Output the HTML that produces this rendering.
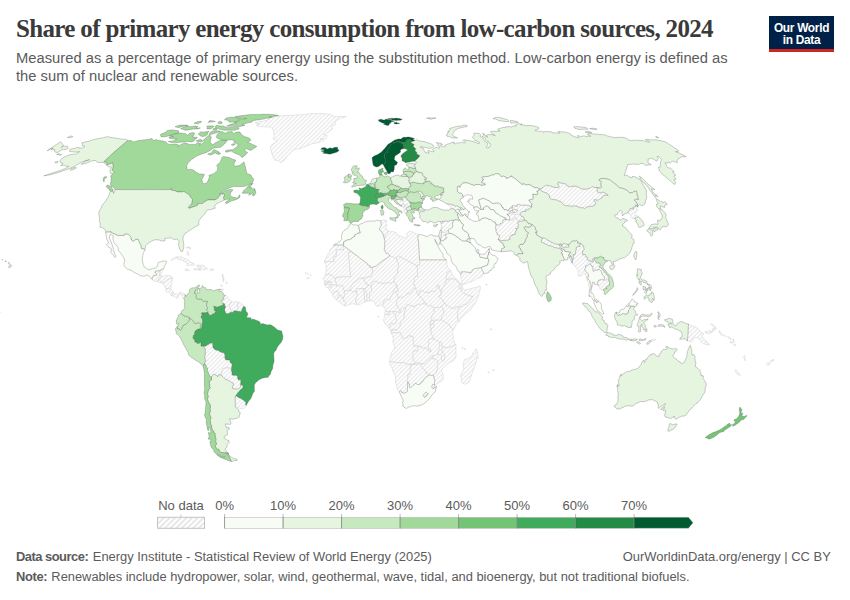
<!DOCTYPE html>
<html lang="en"><head><meta charset="utf-8"><title>Share of primary energy consumption from low-carbon sources, 2024</title>
<style>
html,body{margin:0;padding:0;background:#fff}
body{width:850px;height:600px;position:relative;overflow:hidden;font-family:"Liberation Sans",sans-serif;color:#5b5b5b}
.abs{position:absolute;white-space:nowrap}
#title{left:16px;top:13px;font-family:"Liberation Serif",serif;font-weight:bold;font-size:25px;line-height:32px;color:#3a3a3a;letter-spacing:-0.655px}
#sub{left:16px;top:49px;font-size:14.76px;line-height:18px;color:#5b5b5b;white-space:normal;width:740px}
#logo{left:769px;top:16px;width:65px;height:36px;background:#002147;color:#fff;text-align:center;font-weight:bold;font-size:11.9px;line-height:12.1px;letter-spacing:-0.3px}
#logo:after{content:"";position:absolute;left:0;right:0;bottom:0;height:2.6px;background:#ce261e}
#logo span{display:block}
#foot1{left:16px;top:549px;font-size:12.92px;line-height:16px}
#foot1 b{letter-spacing:-0.5px;margin-right:1px}
#foot2{left:16px;top:569px;font-size:12.89px;line-height:16px}
#foot2 b{letter-spacing:-0.35px;margin-right:0.6px}
#footr{right:19.2px;top:549px;font-size:12.94px;line-height:16px}
b{font-weight:bold}
svg{position:absolute;left:0;top:0}
.lg{font-size:13px;fill:#5b5b5b;font-family:"Liberation Sans",sans-serif}
</style></head><body>
<div id="title" class="abs">Share of primary energy consumption from low-carbon sources, 2024</div>
<div id="sub" class="abs">Measured as a percentage of primary energy using the substitution method. Low-carbon energy is defined as<br>the sum of nuclear and renewable sources.</div>
<div id="logo" class="abs"><span style="margin-top:5.6px">Our World</span><span>in Data</span></div>
<svg width="850" height="600" viewBox="0 0 850 600"><defs><pattern id="hatch" patternUnits="userSpaceOnUse" width="3.03" height="3.03" patternTransform="rotate(-45)"><rect x="-1" y="-1" width="6" height="6" fill="#fff"/><path d="M-1,1.5H5" stroke="#cecece" stroke-width="0.58"/></pattern><pattern id="hatch2" patternUnits="userSpaceOnUse" width="4" height="4" patternTransform="rotate(-45)"><rect x="-1" y="-1" width="6" height="6" fill="#fff"/><path d="M-1,2H5" stroke="#c4c4c4" stroke-width="0.8"/></pattern></defs>
<g id="map"><g fill="url(#hatch)" stroke="#cfcfcf" stroke-width="0.5" stroke-linejoin="round">
<path d="M162.2,268.9 162.1,271.6 160.8,274.7 160,275.7 159.3,275.7 159.7,273.3 160,270.8 160.1,270.4Z"/>
<path d="M160,275.7 161.6,276.3 159.2,278 158.6,279.7 156.7,281.4 154.2,281 152.1,279.4 152.3,277.4 153.6,275.3 156.5,275.3 156.7,274.2 154.6,272.2 155.7,272.2 155.8,270.8 157.9,270.8 160,270.8 159.7,273.3 159.3,275.7Z"/>
<path d="M161.6,276.3 163.2,275.9 166.6,275.7 168.9,275.6 171.2,276.3 172.8,278.1 169.7,279 168.6,279.3 165.9,280.7 164.4,282.5 162.8,282.5 161.9,282.5 160.4,281.1 159.7,280.4 158.6,279.7 159.2,278Z"/>
<path d="M172.8,278.1 171.8,282 171.3,285.1 170.8,288.5 169.6,289.1 168.3,288.5 166,288.5 164.3,285.9 162.5,283.6 162.8,282.5 164.4,282.5 165.9,280.7 168.6,279.3 169.7,279Z"/>
<path d="M170.8,288.5 171.4,290.1 173.1,292.2 172.3,293.5 172.6,294 172,295.9 170.6,295.1 170.5,293.8 168.3,291.9 167.3,292.2 166,291.2 166,288.5 168.3,288.5 169.6,289.1Z"/>
<path d="M173.1,292.2 173.9,293.8 176,294.3 179,293.3 180.2,292.2 182.5,292.7 184.9,294.6 185.2,296.6 183.6,298.3 182.5,296.4 181.3,294 179.6,294.8 178,295.9 178.8,297.7 176.7,298.5 175.1,296.9 172.4,295.9 172,295.9 172.6,294 172.3,293.5Z"/>
<path d="M225.4,295.5 227.2,296.4 228.3,298.2 229.4,299.5 231.2,301.6 230.9,304 229.5,304.7 229.6,305.3 229.1,306.7 230.1,308.6 230.8,308.6 231.1,310.1 232.5,312.3 231.9,312.4 230.6,312.2 229.9,312.9 228.8,313.4 228.1,313.5 227.8,314 226.7,313.8 225.3,312.6 225.1,311.4 224.6,310.1 225,307.9 225.6,306.9 225.1,305.7 224.4,305.4 224.7,304.2 224.2,303.6 223,303.7 221.5,301.7 222.1,301 222.1,299.8 223.5,299.4 224.1,298.9 223.4,297.9 223.6,297Z"/>
<path d="M231.2,301.6 233.9,302.1 236.2,301.7 238.5,302 237.4,304.5 237.5,306.3 238.4,307.8 238,309 237.7,310.2 237.1,311.3 235.8,310.7 234.7,311 233.8,310.7 233.6,311.5 234,312 233.7,312.5 232.5,312.3 231.1,310.1 230.8,308.6 230.1,308.6 229.1,306.7 229.6,305.3 229.5,304.7 230.9,304Z"/>
<path d="M238.5,302 240.8,303.2 243.1,305.3 243.7,306.3 242.4,308.8 241.7,310.8 240.8,311.8 239.7,311.9 239.4,311.2 238.9,311.1 238.1,311.8 237.1,311.3 237.7,310.2 238,309 238.4,307.8 237.5,306.3 237.4,304.5Z"/>
<path d="M246.2,405.5 245.6,407.2 243.5,408.7 240.6,408.5 238.8,407.9 236.9,407.4 235.3,405.9 235.1,404.2 235.5,403.7 235,401.1 235.1,398.4 235.3,396.3 236.7,396 239.3,398 240.1,397.9 242.6,399.6 244.6,401.1 246.1,402.9 245.4,404.1Z"/>
<path d="M161.9,282.5 160.2,282.8 157.3,282 156.7,281.4 158.6,279.7 159.7,280.4 160.4,281.1Z"/>
<path d="M204.5,363.3 205.7,360.4 204.5,358.2 205,357.3 204.5,356.4 205.3,355.1 205.2,352.9 205.1,351 205.6,350.1 204.4,348 203.3,345.9 205,346.2 206.2,346.1 206.7,345.3 208.7,344.3 209.8,343.3 212.8,342.8 212.7,344.8 213,345.8 212.9,347.5 215.5,349.9 218.1,350.3 219.1,351.3 220.7,351.8 221.7,352.6 223.1,352.5 224.5,353.3 224.7,354.8 225.2,355.6 225.3,356.7 224.6,356.7 225.7,359.8 227.9,359.9 230.1,359.9 229.9,361.4 230.2,362.4 231.5,363.2 232.2,364.8 231.9,366.9 231.4,368 231.8,369.5 231.1,370.1 231,369.2 228.8,367.9 226.7,367.9 224.7,368.2 222.8,368.6 221.9,370.9 222,372.3 221.4,375.5 221,374.9 218.4,374.8 217.7,376.9 216.2,375 213.2,374.4 211.6,376.7 210,377.1 208.7,373.5 207.2,370.5 207.6,368 206.3,366.9 205.8,365Z"/>
<path d="M221.4,375.5 222,372.3 221.9,370.9 222.8,368.6 224.7,368.2 226.7,367.9 228.8,367.9 231,369.2 231.1,370.1 231.9,371.5 232.1,375 234.5,375.5 235.4,375 237,375.7 237.5,376.5 237.9,378.9 238.3,379.9 239.1,380 239.9,379.6 240.8,380.1 240.9,381.5 240.8,383.1 240.5,384.6 240.4,386.9 238.6,388.9 236.9,389.3 234.3,388.9 232,388.2 232.8,386.2 233.7,384.2 233.2,383.1 230.8,382 227.9,380.1 226,379.7 223.7,377.6Z"/>
<path d="M199.8,270.1 197.6,269.9 195.9,269.7 194.8,270.2 193.6,269.4 193.9,268.5 196,268.9 197.7,269.1 198.6,268.5 197.6,267.4 197.8,266.4 196.4,266 197,265.2 198.9,265.2 200.3,265.8 200.3,267.2 200,268.2 199.4,268.6 199.9,269.4Z"/>
<path d="M200.3,265.8 200.6,265.3 202.4,265.3 204.3,265.9 204.6,266.9 205.7,267.6 206.9,267.8 207.7,268.7 206.7,269.7 205.5,269.1 203.7,269.7 202.3,269.1 201.5,269.5 199.9,270.9 199.8,270.1 199.9,269.4 199.4,268.6 200,268.2 200.3,267.2Z"/>
<path d="M638.1,207 637.2,206.9 636.8,207.8 636.6,208.6 637.8,210.5 637,211.1 636.9,211.5 636.5,212.3 635.3,212.7 634.7,213.4 635.2,214.6 635.1,214.8 636.2,215.3 638,216.4 637.2,217.2 635.7,217.3 635.4,218.5 634.4,218.6 633.1,218.1 632.6,218.8 632.3,218.4 631.6,218.1 630.8,217.7 630.9,216.6 631.2,216.2 630.8,215.8 630.6,214.4 630.3,214 628.9,213.7 627.5,213 628.4,211.3 630,209.9 630.4,208.1 631.9,208.9 633.8,209 632.7,207.6 634,207.1 635.3,206.5 635.2,205 637.5,206.6Z"/>
<path d="M602.7,289.9 600.8,289.5 599.7,288.2 598.3,285.4 597.4,282.3 598.7,280.1 601.6,279.6 603.8,280 605.7,281 606.6,279.2 608.7,280.2 609.4,281.9 609.5,285 607.7,286 605.8,287.1 607,288.7 604.6,288.8Z"/>
<path d="M589.5,291.3 589.2,289.4 589.7,287.4 588.8,285.9 588.7,283 587.6,281.6 586.6,278.5 585.8,275.2 584.5,273 583.2,274.4 580.8,276.2 579.5,276 578,275.4 578.4,272.1 577.6,269.7 575.4,266.7 575.5,265.7 574.2,265.4 572.2,263.3 571.8,261.2 572.6,261.6 572.4,259.7 573.4,259.1 573,258 573.4,257.1 573.1,254.4 574.9,255 575.6,252.8 575.5,251.5 576.3,249.3 575.9,247.8 578.4,246 580.1,246.5 579.6,244.9 580.3,244.4 579.9,243.4 581.1,243.2 582.2,244.8 583.3,245.4 583.8,247.4 584.2,249.5 582.5,251.7 582.8,254.8 585.1,254.4 586,256.8 587.5,257.3 587.2,259.5 589,260.5 589.9,260.9 591.9,261.3 590.2,263 589.9,263.9 588.7,264.5 587.5,265.7 585.9,265.8 585.3,268.6 584.5,269.1 585.9,271.4 587.6,273.3 588.7,275 588.2,277.3 587.4,277.8 588.1,279.1 589.9,281.1 590.3,282.6 590.4,283.8 591.5,286.2 590.4,288.7Z"/>
<path d="M484.1,273.8 482.5,274.5 482.2,275.6 482.2,276.5 479.9,277.6 478.2,278.2 476.4,278.8 474.4,280.7 473.4,280.8 472.7,280.7 471.4,281.8 470,282.3 468.1,282.4 467.5,282.6 467.1,283.2 466.4,283.4 466.1,284.1 465,284 464.3,284.4 462.7,284.3 462,282.7 462,281.3 461.6,280.5 461.1,278.6 460.4,277.5 460.8,277.4 460.5,276.2 460.8,275.7 460.6,274.6 461.6,273.7 461.3,272.6 461.8,271.3 462.8,272 463.4,271.8 466,271.7 466.4,272 468.7,272.3 469.5,272.1 470.1,273 471.2,272.5 472.6,269.8 474.7,268.6 477.9,268.1 481.1,267.6 482.2,269.8 483.2,271.9Z"/>
<path d="M440.6,240.6 440.5,240.2 440.9,238.1 441.2,236 441.1,235 441.3,234.2 441.2,232.6 441.5,231.8 444,232.8 446,231.4 448,230 449.3,233.2 448.9,233.6 446.7,234.3 444.6,234.9 447.1,237.5 446.4,238 446.1,238.9 444.5,239.2 444,240.2 443.2,241Z"/>
<path d="M446.3,259.8 447.2,262.4 446.7,262.8 447.2,265.5 448.2,268.7 449.1,269.3 450.4,270.3 449.3,271.7 447.7,272.2 447,273 446.9,274.7 446,278.6 446.3,279.6 446.1,281.9 445.2,284.4 443.9,285.7 443,287.7 442.8,288.8 441.7,289.5 441.2,292.5 440.8,292.5 440.8,291.2 440.5,290.3 439.3,289.3 439,287.4 439.2,285.5 438.1,285.3 437.9,285.9 436.6,286 437.1,286.8 437.4,288.3 436.2,289.8 435.1,291.7 433.9,291.9 431.9,290.4 431.1,291 430.9,291.7 429.7,292.2 429.6,292.7 427.3,292.7 427,292.2 425.3,292.1 424.5,292.5 423.9,292.3 422.7,290.8 422.3,290.1 420.6,290.5 420,291.7 419.5,294 418.7,294.5 418,294.8 417.8,294.6 417,293.9 416.8,293.1 417.2,292 417.1,290.9 415.8,289.3 415.5,288.2 415.5,287.6 414.7,286.8 414.6,285.3 414.1,284.2 413.3,284.4 413.5,283.4 414.1,282.4 413.8,281.3 414.5,280.5 414,279.8 414.6,278.2 415.6,276.3 417.6,276.5 417.4,273 417.3,269.6 417.1,266.1 417.1,265 419.7,265 419.6,262.4 419.5,259.8 422.5,259.8 425.6,259.8 428.6,259.8 431.5,259.8 434.4,259.8 437.3,259.8 440.3,259.8 443.3,259.8Z"/>
<path d="M450.4,270.3 451.9,273.3 452.7,275.7 454,276.9 457.2,279.4 458.5,280.9 459.9,282.4 460.6,283.3 461.8,284.1 461.1,284.7 460.1,284.5 459.3,283.7 458.3,282.1 457.2,281.3 456.6,280.4 454.6,279.3 453,279.3 452.4,278.8 451.1,279.4 449.7,278.2 449,280.2 446.3,279.6 446,278.6 446.9,274.7 447,273 447.7,272.2 449.3,271.7Z"/>
<path d="M461.8,284.1 462.3,284.9 462.3,286 461,286.6 462,287.3 461.3,288.7 460.7,288.3 460.2,288.5 458.9,288.4 458.8,287.6 458.6,286.9 459.3,285.7 460.1,284.5 461.1,284.7Z"/>
<path d="M462,287.3 462.8,287.8 463.3,288.9 464.4,290 465.5,290 467.7,289.3 470.1,289 472.1,288.2 473.3,288 474.1,287.6 475.4,287.5 476.1,287.4 477.1,287 478.3,286.8 479.4,285.9 480.2,285.9 480.3,286.6 480.2,288.1 480.3,289.5 479.8,290.4 479.3,293.3 478.3,296.2 476.9,299.5 475,303.3 473.1,306.3 470.5,309.8 468.2,311.9 464.8,314.6 462.6,316.5 460.1,319.7 459.5,321.1 459,321.7 457.6,319.5 457.6,316.4 457.6,313.2 457.6,310 459.6,307.1 460.2,306.2 461.7,306.2 463.7,304.3 466.7,304.2 469.9,300.3 473,296.4 471.1,296.4 468.5,295.4 466,294.3 463.5,293.3 462.6,292.4 461.7,291.1 460.8,289.7 461.3,288.7Z"/>
<path d="M459,321.7 457.4,322.7 456.8,323.8 455.9,324 455.6,325.9 454.8,326.9 454.3,328.7 453.4,329.5 450.1,326.9 450,325.4 447.2,323.6 444.5,321.8 441.7,320.1 441.3,319.8 441.3,317 441.9,315.9 443,314.2 443.9,312.3 442.9,309.3 442.6,308 441.4,306.2 442.8,304.6 444.4,302.9 445.6,303.3 445.6,304.8 446.4,305.7 448,305.7 451,307.9 451.7,307.9 452.2,307.8 452.7,308.2 454.3,308.4 454.9,307.3 457,306.2 458,307.1 459.6,307.1 457.6,310 457.6,313.2 457.6,316.4 457.6,319.5Z"/>
<path d="M453.4,329.5 452.3,332.7 452.4,334.2 453.9,335.2 453.9,335.9 453.2,337.4 453.3,338.2 453.2,339.5 453.9,341.1 454.8,343.7 455.6,344.3 453.8,345.8 451.2,346.8 449.8,346.8 449,347.5 447.4,347.6 446.8,347.9 444,347.2 442.3,347.4 441.8,343.9 441,342.6 440.6,341.9 439.4,342.6 438.3,341.4 437,340.6 435.6,340.2 434.7,339.8 433.7,339.1 432.6,335.8 431.2,334.3 430.8,332.8 431.1,331.5 430.7,329.1 431.6,328.9 432.5,328 433.4,326.6 434,326.1 433.9,325.2 433.5,324.6 433.3,323.6 434,323.3 434.2,321.7 433.2,320.3 434,319.9 436.6,320 438.9,319.9 441.3,319.8 441.7,320.1 444.5,321.8 447.2,323.6 450,325.4 450.1,326.9Z"/>
<path d="M455.6,344.3 456,345.5 455.8,348 456,350.3 455.9,352.4 455.9,354.4 456.3,355.7 455.5,357.6 454.5,359.4 453,361 450.8,362 448.2,363.3 445.5,366.1 444.6,366.5 442.9,368.4 441.9,369 441.6,370.9 442.6,372.8 443,374.4 443,375.2 443.3,375 443.1,377.6 442.7,378.8 443.2,379.3 442.8,380.4 441.8,381.3 439.9,382.2 437.1,383.6 436.1,384.6 436.2,385.7 436.7,385.8 436.4,387.2 434.8,387.2 434.7,386 434.4,384.8 434.3,383.9 434.8,381 434.3,379.1 433.5,375.5 436,372.5 436.7,370.6 437,370.4 437.4,368.8 437,368.1 437.2,366.1 437.8,364.3 437.9,361 436.8,360.1 435.7,360 435.2,359.3 434.2,358.8 432.3,358.8 432.1,357.8 432,356 434.3,355.3 436.7,354.5 439,353.8 440.3,355.1 440.9,354.8 441.8,355.5 441.9,356.5 441.4,357.8 441.5,359.6 442.9,361.2 443.7,359.4 444.7,358.9 444.6,355.5 443.7,353.6 442.9,352.8 442.1,352.8 441.6,349.4 442.3,347.4 444,347.2 446.8,347.9 447.4,347.6 449,347.5 449.8,346.8 451.2,346.8 453.8,345.8Z"/>
<path d="M399.4,392 397.8,390 397,388.1 396.6,385.6 396.1,383.7 395.8,381.7 395.4,379.6 395.5,376.5 395.2,375.1 394.4,374 393.2,371.9 392.1,368.7 391.6,367.1 389.8,364.5 389.7,362.5 390.9,362 392.2,361.6 393.7,361.7 395,362.8 395.4,362.7 398.4,362.6 401.5,362.6 404.6,362.5 406.2,363.8 408.9,364 411.7,364.2 413.8,363.6 415.9,363.1 417.7,362.5 419.2,362.7 420.1,363.3 420.1,363.5 418.8,364.1 418.1,364.1 416.6,365.1 415.8,364 414,364.5 412.3,364.9 410.6,365 410.4,368.1 410.3,371.2 410.2,374.3 408,374.4 407.9,378.2 407.7,382 407.6,385.3 407.5,388.5 407.3,391.7 405.2,393 404,393.2 402.7,392.7 401.7,392.5 401.4,391.4 400.5,390.7Z"/>
<path d="M389.7,362.5 389.5,360.9 389.9,358.6 390.7,356.2 390.9,355.1 391.6,352.7 392.2,351.6 393.5,349.9 394.3,348.8 394.5,346.8 394.4,345.3 393.8,344.4 393.2,342.8 392.6,341.3 392.7,340.7 393.5,339.7 392.8,337.2 392.3,335.4 391.2,333.7 391.4,333.2 392.4,332.9 393,332.9 393.8,332.6 397.2,332.6 400.6,332.7 401.2,334.6 401.8,336.2 402.4,337 403.2,338.4 404.7,338.2 405.5,337.8 406.8,338.2 407.1,337.5 407.7,336 409.2,335.9 409.3,335.4 410.5,335.4 410.2,336.4 413,336.4 413.1,338 413.5,339 413.1,340.6 413.3,342.2 414.1,343.2 413.9,346.3 414.4,346 415.4,346.1 416.9,345.7 417.9,345.9 418.1,346.7 417.8,347.9 418.2,349.2 417.9,350.2 418,351 415.7,351 413.3,351 413.2,353.8 413.1,356.6 413,359.3 414.4,361.5 415.9,363.1 413.8,363.6 411.7,364.2 408.9,364 406.2,363.8 404.6,362.5 401.5,362.6 398.4,362.6 395.4,362.7 395,362.8 393.7,361.7 392.2,361.6 390.9,362Z"/>
<path d="M391.4,333.2 391.1,332.4 391.7,332.1 391.8,331 392.1,330.3 393,329.8 393.6,330.1 394.4,329.1 395.6,329.1 395.8,329.8 396.6,330.3 398,328.6 399.3,327.4 399.9,326.6 399.9,324.4 400.9,321.8 402,320.5 403.5,319.2 403.7,318.4 403.8,317.5 404.2,316.5 404,315.1 404.3,312.8 404.8,311.1 405.4,309.7 405.6,308.2 405.8,306.3 406.7,305 407.9,304.2 409.8,305 411.3,306 413,306.3 414.7,306.8 415.4,305.2 415.7,305 416.7,305.2 419.3,303.9 420.2,304.5 420.9,304.4 421.3,303.8 422.1,303.6 423.9,303.8 425.3,303.9 426.1,303.6 427.5,305.8 428.6,306.1 429.2,305.6 430.3,305.8 431.5,305.3 432.1,306.4 434.1,308.1 434,311.2 435,311.5 434.2,312.5 433.3,313.2 432.5,314.5 432,315.7 431.9,317.8 431.3,318.8 431.3,320.8 430.6,321.5 430.5,323.1 430.2,323.3 430,324.7 430.6,325.9 430.7,329.1 431.1,331.5 430.8,332.8 431.2,334.3 432.6,335.8 433.7,339.1 432.9,338.8 429.7,339.3 429.1,339.6 428.4,341.2 428.9,342.4 428.5,345.5 428.1,348.1 428.7,348.6 430.3,349.6 430.9,349.1 431,352 429.3,351.9 428.4,350.5 427.6,349.4 425.8,349 425.3,347.6 423.9,348.5 422.1,348.1 421.4,346.9 419.9,346.7 418.8,346.7 418.7,345.9 417.9,345.9 416.9,345.7 415.4,346.1 414.4,346 413.9,346.3 414.1,343.2 413.3,342.2 413.1,340.6 413.5,339 413.1,338 413,336.4 410.2,336.4 410.5,335.4 409.3,335.4 409.2,335.9 407.7,336 407.1,337.5 406.8,338.2 405.5,337.8 404.7,338.2 403.2,338.4 402.4,337 401.8,336.2 401.2,334.6 400.6,332.7 397.2,332.6 393.8,332.6 393,332.9 392.4,332.9Z"/>
<path d="M391.1,332.4 390.5,330.5 391.4,329.4 392.1,328.9 393,329.8 392.1,330.3 391.8,331 391.7,332.1Z"/>
<path d="M390.5,330.5 388.6,327.7 390.4,326.3 389.5,324.5 390.3,323.9 391.9,323.5 392,322.4 393.3,323.7 395.3,323.8 396,322.5 396.3,320.8 396.1,318.7 395,317.2 396,314.2 395.4,313.6 393.7,313.9 393,312.5 393.2,311.4 396.1,311.5 398,312.2 399.8,312.8 400,311.4 401.2,308.9 402.5,307.5 404.1,308 405.6,308.2 405.4,309.7 404.8,311.1 404.3,312.8 404,315.1 404.2,316.5 403.8,317.5 403.7,318.4 403.5,319.2 402,320.5 400.9,321.8 399.9,324.4 399.9,326.6 399.3,327.4 398,328.6 396.6,330.3 395.8,329.8 395.6,329.1 394.4,329.1 393.6,330.1 393,329.8 392.1,328.9 391.4,329.4Z"/>
<path d="M388.6,327.7 386.2,325.1 384.7,322.9 383.3,320.2 383.4,319.3 383.9,318.5 384.5,316.6 384.9,314.7 385.7,314.5 389.1,314.5 389,311.4 390.1,311.2 391.5,311.6 392.9,311.2 393.2,311.4 393,312.5 393.7,313.9 395.4,313.6 396,314.2 395,317.2 396.1,318.7 396.3,320.8 396,322.5 395.3,323.8 393.3,323.7 392,322.4 391.9,323.5 390.3,323.9 389.5,324.5 390.4,326.3Z"/>
<path d="M384.9,314.7 384.5,314.3 385.3,311.3 387.2,311.4 389,311.4 389.1,314.5 385.7,314.5Z"/>
<path d="M385.3,311.3 385.6,309.3 384.7,307.5 383.6,307.1 383.2,305.9 382.6,305.5 382.6,304.8 383.2,303 384.3,300.5 384.9,300.4 386.3,298.9 387.2,298.8 388.5,299.9 390.1,299.1 390.3,298 390.8,296.9 391.1,295.6 392.3,294.5 392.8,292.7 393.3,292.1 393.6,290.7 394.2,289.1 396.1,287.1 396.2,286.2 396.4,285.7 395.5,284.7 395.5,283.8 397.2,285.4 397.3,287.1 397.3,288.8 398.6,291.2 397.3,291.2 396.6,291.4 395.6,291.1 395.1,292.3 396.4,293.9 397.5,294.3 397.8,295.4 398.5,297.2 398.2,297.9 397.1,300.5 396.5,301 396.3,303.1 396.6,304.2 396.4,304.9 397.5,306.3 397.7,307.2 398.6,308.6 399.6,309.4 399.7,310.6 400,311.4 399.8,312.8 398,312.2 396.1,311.5 393.2,311.4 392.9,311.2 391.5,311.6 390.1,311.2 389,311.4 387.2,311.4Z"/>
<path d="M382.6,304.8 380.2,305.8 379.3,305.6 378.5,306.2 376.6,306.2 375.4,304.5 374.6,302.6 373,300.9 371.2,300.9 369.2,300.9 369.3,298.8 369.3,296.7 369.3,295.1 369.7,293.4 370.4,292.6 371.5,291 371.3,290.3 371.7,289.3 371.2,287.7 371.3,286.8 371.4,284.5 372.1,283.4 372.4,281.9 373,281.4 375.5,281 377.8,282 378.6,283 379.8,283.1 380.9,282.4 383.7,283.8 384.8,283.7 386.2,282.6 387.5,282.7 388.2,282.3 389.4,282.5 391.2,283.2 393,281.7 394.1,281.5 395.5,283.8 395.5,284.7 396.4,285.7 396.2,286.2 396.1,287.1 394.2,289.1 393.6,290.7 393.3,292.1 392.8,292.7 392.3,294.5 391.1,295.6 390.8,296.9 390.3,298 390.1,299.1 388.5,299.9 387.2,298.8 386.3,298.9 384.9,300.4 384.3,300.5 383.2,303Z"/>
<path d="M369.2,300.9 367.3,301.2 366.7,299.4 366.8,296.4 366.8,293.4 366.4,292.9 366.3,291.6 365.5,290.7 364.8,289.9 365.1,288.5 365.8,288.3 366.3,287.1 367.5,286.9 367.9,286.1 368.7,285.3 369.5,285.3 371.3,286.8 371.2,287.7 371.7,289.3 371.3,290.3 371.5,291 370.4,292.6 369.7,293.4 369.3,295.1 369.3,296.7 369.3,298.8Z"/>
<path d="M367.3,301.2 365.4,301.8 364.9,300.9 364.3,299.2 364.1,297.9 364.6,295.6 364.1,294.6 363.9,292.5 363.9,290.7 362.9,289.3 363,288.5 365.1,288.5 364.8,289.9 365.5,290.7 366.3,291.6 366.4,292.9 366.8,293.4 366.8,296.4 366.7,299.4Z"/>
<path d="M365.4,301.8 363.6,302.6 361.8,303.3 360.6,304.2 358.5,305 356.4,304.3 356.5,303.2 355.5,301 356.1,298 357.1,295.8 356.5,292.1 356.2,290.1 356.2,288.7 358.2,288.6 360.2,288.5 361.3,288.7 362,288.3 363,288.5 362.9,289.3 363.9,290.7 363.9,292.5 364.1,294.6 364.6,295.6 364.1,297.9 364.3,299.2 364.9,300.9Z"/>
<path d="M356.4,304.3 355.4,304.3 353.8,303.8 352.3,303.8 349.6,304.3 347.9,305 345.7,306 345.2,305.9 345.4,303.7 345.6,303.4 345.6,302.4 344.6,301.3 343.8,301.1 343.2,300.4 343.7,299.2 343.4,298 343.6,297.2 343.9,297.2 344.1,296.1 343.9,295.6 344.1,295.2 345,294.9 344.4,292.8 343.9,291.7 344.1,290.8 344.5,290.6 344.8,290.4 345.5,290.8 347.3,290.8 347.7,290 348.1,290.1 348.7,289.8 349.1,290.9 349.6,290.6 350.4,288.7 351.1,290.4 352,291.6 353,292.2 353.9,291.5 354.9,291.4 356.5,292.1 357.1,295.8 356.1,298 355.5,301 356.5,303.2Z"/>
<path d="M345.2,305.9 344.6,305.9 342.2,304.7 340.2,302.7 338.2,301.2 336.6,299.6 337.2,298.7 337.3,298 338.4,296.5 339.5,295.3 339.9,295.3 340.5,295 341.5,296.6 341.4,297.6 341.8,298.2 342.4,298.2 342.9,297.1 343.6,297.2 343.4,298 343.7,299.2 343.2,300.4 343.8,301.1 344.6,301.3 345.6,302.4 345.6,303.4 345.4,303.7Z"/>
<path d="M336.6,299.6 336,299.4 334.4,298.3 333.2,296.9 332.8,296 332.5,294 333.8,292.9 334,292.2 334.4,291.6 335.1,291.5 335.6,291 337.4,291 338.1,292 338.6,293.1 338.5,293.8 338.9,294.5 338.8,295.5 339.5,295.3 338.4,296.5 337.3,298 337.2,298.7Z"/>
<path d="M332.5,294 331.5,292.5 330.7,291.4 330.1,291.1 329.5,290.6 329.3,289.4 328.9,288.9 328.3,288.4 329.3,287.2 330,287.2 330.6,286.8 331.1,286.8 331.5,286.4 331.3,285.6 331.5,285.3 331.6,284.4 332.7,284.4 334.3,285.1 334.8,285 335,284.7 336.3,284.9 336.6,284.8 336.7,285.7 337.1,285.7 337.7,285.4 338.1,285.5 338.7,286.1 339.7,286.3 340.3,285.8 341.6,285.1 342.1,285.1 342.6,285.7 342.8,286.4 343.8,287.5 343.3,288.2 343.2,289 343.7,288.8 344,289.1 343.8,289.9 344.5,290.6 344.1,290.8 343.9,291.7 344.4,292.8 345,294.9 344.1,295.2 343.9,295.6 344.1,296.1 343.9,297.2 343.6,297.2 342.9,297.1 342.4,298.2 341.8,298.2 341.4,297.6 341.5,296.6 340.5,295 339.9,295.3 339.5,295.3 338.8,295.5 338.9,294.5 338.5,293.8 338.6,293.1 338.1,292 337.4,291 335.6,291 335.1,291.5 334.4,291.6 334,292.2 333.8,292.9Z"/>
<path d="M328.3,288.4 327.1,287.3 326.1,287.2 325.6,286.4 325.6,286 324.9,285.5 324.8,284.9 326,284.5 326.7,284.6 327.4,284.3 329.5,284.3 331.6,284.4 331.5,285.3 331.3,285.6 331.5,286.4 331.1,286.8 330.6,286.8 330,287.2 329.3,287.2Z"/>
<path d="M324.8,284.9 324.4,282.9 326.5,283 327.1,282.6 327.5,282.6 328.3,282 329.3,282.5 330.3,282.6 331.3,282 330.8,281.3 330.1,281.7 329.4,281.7 328.5,281 327.7,281.1 327.2,281.7 324.7,281.8 323.8,279.7 322.7,278.8 323.7,278.3 324.9,276.5 325.4,275.1 326.2,274.3 327.4,274.5 328.5,273.9 329.7,273.9 330.8,274.7 332.3,275.4 333.7,277.3 335.2,279.1 335.3,280.7 335.7,282.2 336.5,283 336.7,284 336.6,284.8 336.3,284.9 335,284.7 334.8,285 334.3,285.1 332.7,284.4 331.6,284.4 329.5,284.3 327.4,284.3 326.7,284.6 326,284.5Z"/>
<path d="M324.4,282.9 324.7,281.8 327.2,281.7 327.7,281.1 328.5,281 329.4,281.7 330.1,281.7 330.8,281.3 331.3,282 330.3,282.6 329.3,282.5 328.3,282 327.5,282.6 327.1,282.6 326.5,283Z"/>
<path d="M325.4,275.1 325.3,273.7 325.9,272.4 326.3,270 326.1,267.4 325.8,266.1 326.1,264.8 325.5,263.5 324.4,262.4 324.9,261.5 327.8,261.5 330.8,261.5 333.7,261.5 333.4,257.8 334,256.4 336.1,256.2 336.1,252.9 336.2,249.5 338.6,249.6 341.1,249.6 343.5,249.6 343.6,247.7 343.6,245.7 346.4,247.8 349.2,249.9 351.9,252 350.2,252 348.5,252.1 348.8,255.8 349.1,259.6 349.5,263.3 349.8,267.1 350.1,270.9 350.5,274.6 350.9,275 350.3,276.8 347.3,276.8 344.2,276.8 341.2,276.8 340.8,277.4 339.9,277.2 338.7,277.7 337.1,277 336.3,277.1 335.9,278.6 335.2,279.1 333.7,277.3 332.3,275.4 330.8,274.7 329.7,273.9 328.5,273.9 327.4,274.5 326.2,274.3Z"/>
<path d="M324.4,262.4 324.5,261.3 324.6,260.1 325.5,259.4 326.3,258 326.2,257.1 327,255.3 328.3,253.6 329.1,253.2 329.7,251.7 329.8,250.3 330.7,248.7 332.2,247.7 333.7,245 337,245 340.3,245 343.6,245 343.6,245.7 343.6,247.7 343.5,249.6 341.1,249.6 338.6,249.6 336.2,249.5 336.1,252.9 336.1,256.2 334,256.4 333.4,257.8 333.7,261.5 330.8,261.5 327.8,261.5 324.9,261.5Z"/>
<path d="M381.2,220.7 383.5,219.7 385,220 385,221.3 386.8,220.4 387,220.9 385.9,222.1 386,223.3 386.7,224 386.5,226.3 385.2,227.6 385.6,229 386.8,229 387.3,230.3 388.2,230.7 388.1,232.7 387.1,233.4 386.4,234.3 385,235.3 385.2,236.4 385.1,237.5 384,238.1 383.5,235.7 382.9,233.4 381.6,232.3 381.5,231.7 379.7,230.1 379.4,228.2 380.7,226.7 381.2,224.6 380.8,222.1Z"/>
<path d="M388.2,230.7 390.8,231.6 391.7,231.4 393.6,231.8 396.5,232.9 397.7,235.3 399.7,235.8 402.8,236.9 405.3,238.2 406.3,237.5 407.3,236.3 406.7,234.3 407.3,233 408.8,231.8 410.3,231.5 413.3,232 414.1,233.2 415,233.2 415.7,233.6 417.9,233.9 418.5,234.8 417.8,236 418.2,237.2 417.7,238.8 418.5,240.9 418.7,244 418.9,247.1 419.1,250.2 419.2,253.4 419.4,256.6 419.5,259.8 419.6,262.4 419.7,265 417.1,265 417.1,266.1 414,264.4 411,262.8 407.9,261.1 404.8,259.4 401.8,257.8 398.7,256.1 396.5,257.5 394.9,258.5 393.6,257.1 391.8,256.5 390,255.9 387.2,253.1 386.2,253.6 385.4,252.1 385.2,251 383.9,249.1 384.8,248 384.5,246.4 384.8,244.9 384.6,243.7 384.9,241.6 384.8,240.4 384,238.1 385.1,237.5 385.2,236.4 385,235.3 386.4,234.3 387.1,233.4 388.1,232.7Z"/>
<path d="M440,230.8 440.6,228.7 441.4,226.8 441.5,226.7 442.5,226.9 442.9,227.9 441.9,228.9 441.5,230.3 440.9,230.4 440.8,230.8Z"/>
<path d="M441.5,226.7 441,224.7 441.4,223.7 441.9,223.1 442.4,222.5 442.4,221.1 443.1,221.6 445.4,220.9 446.6,221.3 448.4,221.3 450.7,220.4 451.9,220.4 454.3,220 453.5,221.6 452.4,222.3 452.8,224.2 452.5,227.3 450.2,228.7 448,230 446,231.4 444,232.8 441.5,231.8 441.7,231.4 441.5,230.3 441.9,228.9 442.9,227.9 442.5,226.9Z"/>
<path d="M450.7,208.8 450.8,207.7 450,205.9 448.6,205 447.4,204.7 446.5,203.9 446.7,203.6 448.5,204 451.7,204.4 454.8,205.7 455.2,206.2 456.4,205.8 458.5,206.3 459.4,207.4 460.8,208 460.3,208.3 461.6,209.7 461.4,210 460.2,209.9 458.5,209.1 458.1,209.5 455.2,210 453,208.7Z"/>
<path d="M406,213.8 405.6,213.6 405.5,213 404.3,212.1 404,210.9 404,209.1 404.2,208.3 403.8,207.9 403.6,207.1 404.4,205.8 404.6,206.3 405.1,206.1 405.6,206.8 406.2,207 406.4,208 406.2,208.8 406.6,210 407.5,210.6 407.6,211.3 406.9,211.7 406.9,212.5Z"/>
<path d="M403.8,207.9 403.4,207.7 402.7,206.9 401.7,206.4 401.9,205.9 402.1,204.5 402.8,203.9 403.1,203.7 403.7,204.1 404.1,204.5 404.8,204.7 405.6,205.3 405.5,205.5 405.1,206.1 404.6,206.3 404.4,205.8 403.6,207.1Z"/>
<path d="M401.8,197.5 403.3,196.9 404.6,197 405.8,198 406.1,198.8 407.4,199.4 407.7,200.5 409,201.2 409.7,201.4 410.1,201.8 409.7,202.4 409.9,203.4 411.1,204.5 410.4,205.3 410.1,206.1 410.4,206.4 410,206.8 409.1,206.8 408.4,207 408.3,206.8 408.5,206.5 408.7,205.8 408.4,205.8 407.9,205.4 407.6,205.2 407.3,204.8 406.9,204.7 406.5,204.3 406.2,204.4 406,205.3 405.5,205.5 405.6,205.3 404.8,204.7 404.1,204.5 403.7,204.1 403.1,203.7 403.6,203.5 403.8,202.3 402.7,201.4 403.1,200.2 402.4,200.2 403.1,199.2 402.3,198.5Z"/>
<path d="M401.9,205.9 400,204.9 399.1,203.9 398.3,203.3 397.3,202.3 396.7,201.5 395.6,200.3 396,199.3 396.8,199.9 397.2,199.3 398.1,199.3 399.9,199.7 401.4,199.7 402.4,200.2 403.1,200.2 402.7,201.4 403.8,202.3 403.6,203.5 403.1,203.7 402.8,203.9 402.1,204.5Z"/>
<path d="M405.1,206.1 405.5,205.5 406,205.3 406.2,204.4 406.5,204.3 406.9,204.7 407.3,204.8 407.6,205.2 407.9,205.4 408.4,205.8 408.7,205.8 408.5,206.5 408.3,206.8 408.4,207 407.9,207.1 406.4,208 406.2,207 405.6,206.8Z"/>
<path d="M421.2,198.6 420.7,197.4 420.8,196.3 420.6,195.2 419.2,193.7 418.4,192.6 417.6,191.9 417,191.6 417.4,191.2 418.7,191 420.3,191.8 421.2,191.9 422.2,192.6 422.2,193.4 423,193.8 423.4,194.9 424.3,195.6 424.2,195.9 424.6,196.2 424.1,196.4 422.9,196.3 422.6,196 422.2,196.2 422.4,196.6 422,197.4 421.7,198.3Z"/>
<path d="M455.2,210 458.1,209.5 458.7,210.2 459.6,210.7 459.3,211.3 460.5,212.2 460.1,213 461.1,213.7 462.2,214.2 462.6,216 461.8,216.1 460.3,215.7 459,214.5 458.5,213.5 457.5,212.8 455.8,212.1 455.7,210.9Z"/>
<path d="M498,239.3 499.6,236.9 499.2,235.3 497.4,234.8 496.9,233.2 495.8,231.1 496.5,229.7 495.5,229.3 495.7,227.4 495.9,224.1 498.3,225.1 499.9,224.8 500.1,223.6 501.7,223.2 502.7,222.4 502.7,220.3 504.4,219.8 504.5,218.9 505.7,219.6 506.3,219.7 507.5,219.7 509.3,220.2 510.1,220.5 511.4,219.7 512.3,220.2 512.6,219 513.9,219.1 514.2,218.7 514.1,217.6 514.8,216.7 516.1,217.3 516.1,218.1 516.8,218.2 517.2,220.4 518.2,221.3 518.8,220.7 519.7,220.5 520.8,219.3 522.3,219.5 524.5,219.5 525.1,220.3 524,220.5 523,221 520.6,221.3 518.4,221.9 517.4,223 518.2,224.1 518.8,225.4 518,226.5 518.3,227.5 517.9,228.4 515.8,228.4 517.1,230.1 515.8,230.7 515.2,232.3 515.7,233.9 515,234.6 514.1,234.4 512.5,234.7 512.4,235.5 510.8,235.5 509.8,236.9 510.1,239.2 507.4,240.3 505.8,240 505.5,240.6 504.1,240.3 501.9,240.7 500,240Z"/>
<path d="M524.5,219.5 522.3,219.5 520.8,219.3 519.7,220.5 518.8,220.7 518.2,221.3 517.2,220.4 516.8,218.2 516.1,218.1 516.1,217.3 514.8,216.7 514.1,217.6 514.2,218.7 513.9,219.1 512.6,219 512.3,220.2 511.4,219.7 510.1,220.5 509.3,220.2 509.8,217.6 508.9,215.6 507.1,215 507.4,213.9 509.2,214 509.8,212.5 510,210.9 512.6,210.3 512.6,211.5 513.1,212.2 513.9,212.2 513.4,212.9 511,212.5 511.2,214 513.4,213.8 516.3,214.7 518.3,214.5 520.2,214.3 521.5,216.7 522.1,216.4 523.6,217 523.8,218Z"/>
<path d="M513.9,212.2 515.6,212.4 517.8,210.5 514.8,209.2 513.5,209.8 511.7,208.8 512.9,207.2 512.2,206.9 512.3,205.8 513.6,205.4 515.4,205.9 517.3,206.3 517.1,204.8 518.1,204.2 521.5,205.3 522.2,205 523.9,205.1 525.7,205.1 528.9,205.4 530.2,206.3 531.7,206.7 531.6,207.3 530.2,208 528.8,208.7 528.4,209.7 525.7,210 525.5,211.7 523.1,211.3 521.8,211.8 520.2,213.1 520.2,214.3 518.3,214.5 516.3,214.7 513.4,213.8 511.2,214 511,212.5 513.4,212.9Z"/>
<path d="M539.7,188.9 541.6,188.4 543,187.4 544.4,186.3 545.6,185.7 546.8,185.1 548.9,185.8 551,185.9 553,187.1 555,187.2 558.3,187.8 559.3,186 557.6,184.6 558.2,181.9 561,183 563,183.3 565.7,183.9 567.2,185.8 570.6,186.9 572.2,186.4 574.6,186.1 576.8,186.4 579.5,187.6 581.5,188.9 583.3,188.9 586.1,189.3 587.6,188.7 590,188.3 591.8,186.5 593.2,186.8 594.7,187.6 597,187.4 597.2,189.3 597.3,191.8 598.5,192.9 599.5,192.6 601.7,193 602.7,192 604.8,192.8 607.7,194.6 608.1,195.5 606.3,195.2 603.5,195.6 602.5,196.3 602,198 600.7,198.5 599.4,199 598.1,200.3 595.7,199.8 594.4,199.6 594.2,201.2 595.4,202.3 596.2,203.1 595.2,204 594.4,205.4 592.4,206.3 589.3,206.4 587.8,206.8 586.3,207.3 584.5,208.6 583.2,207.8 580.7,207.8 576.8,206.3 574.6,205.9 572,206.3 569.7,206 567.4,205.7 565.1,205.7 563.2,204.2 561.1,201.8 559.7,201.5 556.5,199.9 553.5,199.6 550.9,199.1 549.7,198 549.1,195 546.7,193 543.4,192 541,190.7Z"/>
<path d="M591.9,261.3 592.2,261.9 593.4,262 592.6,259 593.7,258.6 595.3,260.6 596.7,263 599.6,263 600.8,265.3 599.4,266 599,266.9 601.9,268.5 604.3,271.6 606,273.9 608,275.7 608.9,277.6 608.7,280.2 606.6,279.2 605.7,281 603.8,280 604.4,278.8 604.2,276.6 602,274.3 601.5,271.7 599.5,269.6 597.7,269.4 597.4,270.4 596.1,270.4 595.3,270 593.2,271.5 592.8,269.2 592.9,266.4 591.4,266.3 591,264.7 589.9,263.9 590.2,263Z"/>
<path d="M561.4,245.9 562.5,244 563.6,243.3 565.3,244 566.5,244 567.6,244.7 568.7,245.5 568.8,247.1 567,247.2 565.1,247 563.8,247.5 561.6,246.5Z"/>
<path d="M542.7,238.4 543.5,237.8 545.4,238.6 548,240.3 549.4,240.7 550.4,241.9 552.2,242.4 554.3,243.6 556.9,244.2 559.6,244.4 559.6,245.5 560.2,247.2 560.2,248.3 558.3,248.3 555.5,247.7 553.7,247.4 552.2,246.1 549.1,245.8 545.9,244.3 543.5,243 541.2,242 541.5,239.6Z"/>
<path d="M351.9,252 354.5,253.9 357,255.8 359.5,257.7 362,259.6 364.6,261.5 367.1,263.4 367.7,264.7 369.1,265.4 370.1,265.8 370.2,267.5 372.7,267.2 372.7,270.2 372.7,273.3 371.5,275 371.3,276.6 369.3,277 366.2,277.3 365.3,278.2 363.8,278.3 362.4,278.3 361.8,277.8 360.6,278.2 358.4,279.2 358,280.1 356.2,281.2 355.9,281.9 354.9,282.4 353.8,282.1 353.2,282.7 352.8,284.5 351,286.7 351.1,287.6 350.4,288.7 349.6,290.6 349.1,290.9 348.7,289.8 348.1,290.1 347.7,290 347.3,290.8 345.5,290.8 344.8,290.4 344.5,290.6 343.8,289.9 344,289.1 343.7,288.8 343.2,289 343.3,288.2 343.8,287.5 342.8,286.4 342.6,285.7 342.1,285.1 341.6,285.1 340.3,285.8 339.7,286.3 338.7,286.1 338.1,285.5 337.7,285.4 337.1,285.7 336.7,285.7 336.6,284.8 336.7,284 336.5,283 335.7,282.2 335.3,280.7 335.2,279.1 335.9,278.6 336.3,277.1 337.1,277 338.7,277.7 339.9,277.2 340.8,277.4 341.2,276.8 344.2,276.8 347.3,276.8 350.3,276.8 350.9,275 350.5,274.6 350.1,270.9 349.8,267.1 349.5,263.3 349.1,259.6 348.8,255.8 348.5,252.1 350.2,252Z"/>
<path d="M372.7,267.2 375.9,266.1 379.1,263.5 382.4,260.9 384.9,259.3 387.5,257.6 390,255.9 391.8,256.5 393.6,257.1 394.9,258.5 396.5,257.5 396.8,259.6 397.2,261.6 398,262.3 398.1,263.1 399,264 398.6,265.1 398.2,267.8 397.8,270.4 397.8,273.8 394.9,276.3 394,279.7 394.1,281.5 393,281.7 391.2,283.2 389.4,282.5 388.2,282.3 387.5,282.7 386.2,282.6 384.8,283.7 383.7,283.8 380.9,282.4 379.8,283.1 378.6,283 377.8,282 375.5,281 373,281.4 372.4,281.9 372.1,283.4 371.4,284.5 371.3,286.8 369.5,285.3 368.7,285.3 367.9,286.1 368,284.3 365.3,283.7 365.3,282.4 364,280.7 363.7,279.6 363.8,278.3 365.3,278.2 366.2,277.3 369.3,277 371.3,276.6 371.5,275 372.7,273.3 372.7,270.2Z"/>
<path d="M396.5,257.5 398.7,256.1 401.8,257.8 404.8,259.4 407.9,261.1 411,262.8 414,264.4 417.1,266.1 417.3,269.6 417.4,273 417.6,276.5 415.6,276.3 414.6,278.2 414,279.8 414.5,280.5 413.8,281.3 414.1,282.4 413.5,283.4 413.3,284.4 414.1,284.2 414.6,285.3 414.7,286.8 415.5,287.6 415.5,288.2 414,288.6 412.9,289.7 411.3,292.5 409.1,293.7 406.9,293.6 406.3,293.8 406.5,294.7 405.3,295.7 404.3,296.7 401.5,297.7 400.9,297.1 400.5,297 400.1,297.7 398.2,297.9 398.5,297.2 397.8,295.4 397.5,294.3 396.4,293.9 395.1,292.3 395.6,291.1 396.6,291.4 397.3,291.2 398.6,291.2 397.3,288.8 397.3,287.1 397.2,285.4 395.5,283.8 394.1,281.5 394,279.7 394.9,276.3 397.8,273.8 397.8,270.4 398.2,267.8 398.6,265.1 399,264 398.1,263.1 398,262.3 397.2,261.6 396.8,259.6Z"/>
<path d="M350.4,288.7 351.1,287.6 351,286.7 352.8,284.5 353.2,282.7 353.8,282.1 354.9,282.4 355.9,281.9 356.2,281.2 358,280.1 358.4,279.2 360.6,278.2 361.8,277.8 362.4,278.3 363.8,278.3 363.7,279.6 364,280.7 365.3,282.4 365.3,283.7 368,284.3 367.9,286.1 367.5,286.9 366.3,287.1 365.8,288.3 365.1,288.5 363,288.5 362,288.3 361.3,288.7 360.2,288.5 358.2,288.6 356.2,288.7 356.2,290.1 356.5,292.1 354.9,291.4 353.9,291.5 353,292.2 352,291.6 351.1,290.4Z"/>
<path d="M398.2,297.9 400.1,297.7 400.5,297 400.9,297.1 401.5,297.7 404.3,296.7 405.3,295.7 406.5,294.7 406.3,293.8 406.9,293.6 409.1,293.7 411.3,292.5 412.9,289.7 414,288.6 415.5,288.2 415.8,289.3 417.1,290.9 417.2,292 416.8,293.1 417,293.9 417.8,294.6 418,294.8 419.5,295.8 420.8,296.8 420.8,297.7 422.4,299.1 423.4,300.2 424,301.7 425.7,302.8 426.1,303.6 425.3,303.9 423.9,303.8 422.1,303.6 421.3,303.8 420.9,304.4 420.2,304.5 419.3,303.9 416.7,305.2 415.7,305 415.4,305.2 414.7,306.8 413,306.3 411.3,306 409.8,305 407.9,304.2 406.7,305 405.8,306.3 405.6,308.2 404.1,308 402.5,307.5 401.2,308.9 400,311.4 399.7,310.6 399.6,309.4 398.6,308.6 397.7,307.2 397.5,306.3 396.4,304.9 396.6,304.2 396.3,303.1 396.5,301 397.1,300.5Z"/>
<path d="M418,294.8 418.7,294.5 419.5,294 420,291.7 420.6,290.5 422.3,290.1 422.7,290.8 423.9,292.3 424.5,292.5 425.3,292.1 427,292.2 427.3,292.7 429.6,292.7 429.7,292.2 430.9,291.7 431.1,291 431.9,290.4 433.9,291.9 435.1,291.7 436.2,289.8 437.4,288.3 437.1,286.8 436.6,286 437.9,285.9 438.1,285.3 439.2,285.5 439,287.4 439.3,289.3 440.5,290.3 440.8,291.2 440.8,292.5 441.2,292.5 441.2,294.6 440.9,295.4 439.6,295.5 438.9,297 440.3,297.1 441.5,298.4 441.9,299.4 443,300.1 444.4,302.9 442.8,304.6 441.4,306.2 440,307.4 438.4,307.4 436.6,308 435.1,307.4 434.1,308.1 432.1,306.4 431.5,305.3 430.3,305.8 429.2,305.6 428.6,306.1 427.5,305.8 426.1,303.6 425.7,302.8 424,301.7 423.4,300.2 422.4,299.1 420.8,297.7 420.8,296.8 419.5,295.8Z"/>
<path d="M434.1,308.1 435.1,307.4 436.6,308 438.4,307.4 440,307.4 441.4,306.2 442.6,308 442.9,309.3 443.9,312.3 443,314.2 441.9,315.9 441.3,317 441.3,319.8 438.9,319.9 436.6,320 434,319.9 433.2,320.3 431.8,321.1 431.3,320.8 431.3,318.8 431.9,317.8 432,315.7 432.5,314.5 433.3,313.2 434.2,312.5 435,311.5 434,311.2Z"/>
<path d="M444.4,302.9 443,300.1 441.9,299.4 441.5,298.4 440.3,297.1 438.9,297 439.6,295.5 440.9,295.4 441.2,294.6 441.2,292.5 441.7,289.5 442.8,288.8 443,287.7 443.9,285.7 445.2,284.4 446.1,281.9 446.3,279.6 449,280.2 449.7,278.2 451.1,279.4 452.4,278.8 453,279.3 454.6,279.3 456.6,280.4 457.2,281.3 458.3,282.1 459.3,283.7 460.1,284.5 459.3,285.7 458.6,286.9 458.8,287.6 458.9,288.4 460.2,288.5 460.7,288.3 461.3,288.7 460.8,289.7 461.7,291.1 462.6,292.4 463.5,293.3 466,294.3 468.5,295.4 471.1,296.4 473,296.4 469.9,300.3 466.7,304.2 463.7,304.3 461.7,306.2 460.2,306.2 459.6,307.1 458,307.1 457,306.2 454.9,307.3 454.3,308.4 452.7,308.2 452.2,307.8 451.7,307.9 451,307.9 448,305.7 446.4,305.7 445.6,304.8 445.6,303.3Z"/>
<path d="M431.3,320.8 431.8,321.1 433.2,320.3 434.2,321.7 434,323.3 433.3,323.6 432.1,323.4 431.4,324.9 430,324.7 430.2,323.3 430.5,323.1 430.6,321.5Z"/>
<path d="M430,324.7 431.4,324.9 432.1,323.4 433.3,323.6 433.5,324.6 433.9,325.2 434,326.1 433.4,326.6 432.5,328 431.6,328.9 430.7,329.1 430.6,325.9Z"/>
<path d="M433.7,339.1 434.7,339.8 435.6,340.2 437,340.6 438.3,341.4 439.4,342.6 439.9,344.8 439.5,345.5 439,347.6 439.4,349.8 438.6,350.7 437.8,353.1 439,353.8 436.7,354.5 434.3,355.3 432,356 432.1,357.8 430.4,358.2 429.1,359.2 428.8,360.1 427.9,360.4 425.9,362.5 424.5,364.2 423.8,364.2 423.1,364 420.5,363.7 420.1,363.5 420.1,363.3 419.2,362.7 417.7,362.5 415.9,363.1 414.4,361.5 413,359.3 413.1,356.6 413.2,353.8 413.3,351 415.7,351 418,351 417.9,350.2 418.2,349.2 417.8,347.9 418.1,346.7 417.9,345.9 418.7,345.9 418.8,346.7 419.9,346.7 421.4,346.9 422.1,348.1 423.9,348.5 425.3,347.6 425.8,349 427.6,349.4 428.4,350.5 429.3,351.9 431,352 430.9,349.1 430.3,349.6 428.7,348.6 428.1,348.1 428.5,345.5 428.9,342.4 428.4,341.2 429.1,339.6 429.7,339.3 432.9,338.8Z"/>
<path d="M439.4,342.6 440.6,341.9 441,342.6 441.8,343.9 442.3,347.4 441.6,349.4 442.1,352.8 442.9,352.8 443.7,353.6 444.6,355.5 444.7,358.9 443.7,359.4 442.9,361.2 441.5,359.6 441.4,357.8 441.9,356.5 441.8,355.5 440.9,354.8 440.3,355.1 439,353.8 437.8,353.1 438.6,350.7 439.4,349.8 439,347.6 439.5,345.5 439.9,344.8Z"/>
<path d="M420.5,363.7 423.1,364 423.8,364.2 424.5,364.2 425.9,362.5 427.9,360.4 428.8,360.1 429.1,359.2 430.4,358.2 432.1,357.8 432.3,358.8 434.2,358.8 435.2,359.3 435.7,360 436.8,360.1 437.9,361 437.8,364.3 437.2,366.1 437,368.1 437.4,368.8 437,370.4 436.7,370.6 436,372.5 433.5,375.5 432.3,375.2 431.5,375.5 430.4,375.1 429.5,375 428.1,373.9 426.4,373.5 425.8,371.8 425.8,370.9 424.9,370.6 422.4,367.7 421.8,366.2 421.3,365.8Z"/>
<path d="M420.1,363.5 420.5,363.7 421.3,365.8 421.8,366.2 422.4,367.7 424.9,370.6 425.8,370.9 425.8,371.8 426.4,373.5 428.1,373.9 429.5,375 426.2,377 424.1,378.9 423.3,380.7 422.6,381.7 421.3,381.9 420.9,383.1 420.6,383.9 419.1,384.5 417.3,384.4 416.3,383.7 415.3,383.4 414.2,384 413.6,385.2 412.5,386 411.3,387.2 409.7,387.4 409.3,386.5 409.5,384.9 408.3,382.4 407.7,382 407.9,378.2 408,374.4 410.2,374.3 410.3,371.2 410.4,368.1 410.6,365 412.3,364.9 414,364.5 415.8,364 416.6,365.1 418.1,364.1 418.8,364.1Z"/>
<path d="M434.8,387.2 434.2,388.3 432.9,388.6 431.7,387.2 431.7,386.3 432.4,385.3 432.6,384.6 433.3,384.4 434.4,384.8 434.7,386Z"/>
<path d="M427.4,393 428.2,393.8 427.4,395 426.9,395.9 425.7,396.3 425.2,397.2 424.4,397.4 422.9,395.4 424.2,393.7 425.4,392.7 426.5,392.2Z"/>
<path d="M626.4,305.5 627.3,304.5 629.2,303.1 629.1,304.3 629.1,306 628,305.9 627.5,306.8Z"/>
<path d="M688.5,324.1 690.4,325 692.4,325.9 694.5,326.6 696.6,327.4 698.1,328.7 699.3,330.1 699.5,331.6 701.4,332.4 703.3,333.2 703.7,334.6 701.6,334.9 702,336.6 703.9,338.3 705.1,341.1 706.4,341 706.2,342.2 707.9,342.6 707.2,343.1 709.5,344.2 709.2,345 707.6,345.1 707.1,344.5 705.2,344.2 702.9,343.8 701.3,342.1 700.2,340.7 699.2,338.4 696.3,337.2 694.3,338 692.8,338.9 692.9,340.8 691,341.7 689.8,341.2 687.4,341.1 687.6,338.3 687.8,335.5 688,332.6 688.2,329.8 688.3,326.9Z"/>
<path d="M650.5,340.5 650.8,339.9 652.8,339.3 654.4,339.3 655.2,338.9 656,339.3 655.1,340 652.6,341.1 650.7,341.8 650.7,341.1Z"/>
<path d="M255,122.6 257.2,122.3 259.4,121.9 261.6,121.5 263.7,121.1 266.8,120.2 269.7,119.3 268.8,118.7 267.8,118.2 270,117.7 272.3,117.2 274.5,116.7 276.6,116.3 278.7,116.1 280.8,115.9 282.9,115.8 284.9,115.6 287,115.5 289.2,115.4 291.3,115.3 293.5,115.2 295.6,115.1 297.7,115 299.9,114.9 301.8,114.6 303.8,114.4 305.7,114.2 307.7,114 309.6,113.8 311.5,113.6 313.3,113.6 315.2,113.6 317,113.6 318.8,113.6 320.6,113.5 322.4,113.5 324.3,113.8 326.3,114 328.2,114.3 330.2,114.5 331.8,115.2 333.4,115.9 335,116.6 336.9,116.6 338.8,116.6 340.6,116.6 342.5,116.6 344.4,116.6 346.2,116.6 344.4,117.2 342.5,117.8 340.6,118.4 338.7,119.1 336.9,120.3 335.2,121.5 335.1,123.2 335.1,125 333,125.6 331,126.3 332.8,128.5 330.9,129.9 328,132.4 325.8,133.5 323.5,134.5 325.4,135.2 327.3,135.8 325.8,139 323.9,138.9 322,138.8 320.1,138.6 321.9,139.5 323.8,140.4 321.5,141.5 319.2,142.6 316.8,142.9 314.5,143.3 312.1,143.7 309.2,144.9 306.3,146.1 303.4,147.4 300.5,148.6 298.3,148.9 296.2,149.2 294.1,149.6 291.4,152.3 287.6,155.8 286,158.2 284.3,160.5 280.9,162.7 278.7,160.8 276.6,160.4 274.4,160.1 273,156.5 271.7,153 271,150.5 270.3,148 271.1,146.1 272,144.4 274.8,142.8 277.6,141.2 276,140.4 274.4,139.6 272.9,138.8 274.2,136.2 274,134.4 273.8,132.6 273.3,130.7 273,128.7 271.2,127.8 269.6,126.9 267.7,126.9 265.8,126.8 263.9,126.8 262.1,126.7 260.4,126.5 258.8,126.3 257.2,126.1 256.1,124.8 257.9,124.4 259.7,124 258.1,123.5 256.6,123.1Z"/>
<path d="M177.4,256.7 179.4,256.9 181.2,256.9 183.2,257.7 183.9,258.7 186.1,258.5 188.9,260.6 189.9,261.9 190.5,261.9 191.8,262.4 191.6,263.1 193.3,263.2 194.8,264.3 194.5,264.9 193,265.2 191.4,265.4 189.9,265.2 186.6,265.4 188.3,264 187.4,263.3 186,263.1 185.3,262.3 185,260.8 183.7,260.9 181.7,260.2 181,259.7 178.2,259.3 177.4,258.8 178.4,258.1 176.2,258 174.4,259.3 173.5,259.4 173,260 171.9,260.3 170.9,260.1 172.2,259.3 172.9,258.3 173.9,257.7 175.2,257.2Z"/>
<path d="M186.6,269 188.1,269.2 189.2,269.8 189.6,270.5 188,270.6 187.2,271 186,270.6 184.8,269.7 185.1,269.1Z"/>
<path d="M210.4,268.9 213.4,269.1 213.8,269.6 213.1,270.3 211.4,270.3 210.1,270.4 210.1,269.3Z"/>
<path d="M221.3,289.2 222.7,288.8 223.1,288.9 222.9,290.9 221,291.2 220.6,290.9 221.3,290.2Z"/>
<path d="M188.4,255.2 187.8,255.3 187.4,253.8 186.7,253 187.4,251.4 188.1,251.5 188.6,253.7Z"/>
<path d="M188.8,247.8 186.3,248.2 186.3,247.3 187.4,247.1 188.9,247.1Z"/>
<path d="M190.7,247.8 190,249.6 189.6,249.3 189.9,247.9 189,246.9 189.1,246.6Z"/>
<path d="M223.4,275 223.1,274.2 222.3,274.2 221.9,275 222.2,275.7 223,275.7Z"/>
<path d="M223.6,277 223.3,276.3 222.5,276.3 222.1,277 222.4,277.8 223.1,277.8Z"/>
<path d="M224.2,279 223.9,278.2 223.2,278.2 222.7,279 223.1,279.8 223.8,279.8Z"/>
<path d="M224.2,281 223.9,280.2 223.1,280.2 222.7,281 223,281.7 223.8,281.7Z"/>
<path d="M227.3,282.9 227,282.2 226.2,282.2 225.8,282.9 226.1,283.7 226.9,283.7Z"/>
<path d="M222.3,285.7 221.9,284.9 221.2,284.9 220.8,285.7 221.1,286.4 221.8,286.4Z"/>
<path d="M476.6,349.9 477.2,351 477.6,352.7 477.8,355.9 478.4,357.1 478.1,358.4 477.6,359.1 476.9,357.6 476.4,358.4 476.7,360.3 476.5,361.4 475.8,362 475.5,364.2 474.4,367.3 473,370.9 472.1,373.4 471.2,375.8 470.1,379.5 468.8,382.5 466.9,383.1 464.9,384.2 463.6,383.6 461.9,382.6 461.4,381.2 461.5,378.9 460.8,376.8 460.7,375 461.3,373.1 462.3,372.6 462.4,371.8 463.6,369.8 463.9,368.1 463.5,366.9 463.2,365.2 463.1,362.8 464,361.3 464.4,359.7 465.6,359.6 466.9,359 467.7,358.6 468.8,358.5 470.1,357.1 472.1,355.4 472.9,354.1 472.6,353 473.6,353.3 474.9,351.5 475,349.9 475.8,348.8Z"/>
<path d="M738.3,372.4 739.7,374 740.6,375.2 739.5,375.9 738.5,375.1 737.2,374 736.1,372.6 735,370.7 734.9,369.9 735.9,369.9 737,370.8 737.7,371.7Z"/>
<path d="M769.4,362.6 770,363.4 769.3,364.7 767.7,365.1 766.6,364.8 766.7,363.6 767.7,362.7Z"/>
<path d="M772,361.2 770.4,361.8 770.3,360.8 771.6,360.2 772.3,360.1 773.9,359.3 773.6,360.6Z"/>
<path d="M745.9,360.4 745.1,360.7 744.6,359.5 744.8,358.8Z"/>
<path d="M743.9,358.3 743.8,357.5 744.1,355.5 745,356.3 745,358.4 744.4,358.1Z"/>
<path d="M735.5,344.7 736,345.6 734.4,345.6 733.7,344 735,344.6Z"/>
<path d="M732.7,343.1 730.5,342.9 730,342.5 730.3,341.5 731.8,341.9 732.5,342.4Z"/>
<path d="M734.7,342.4 734.3,342.9 732.9,340.6 732.6,339 733.3,339 734,341.1Z"/>
<path d="M730.9,339.1 731,339.6 729.3,338.5 728.1,337.6 727.3,336.7 727.7,336.4 728.7,337.1 730.5,338.3Z"/>
<path d="M725.8,336.5 725.3,336.6 724.4,336.1 723.5,335 723.7,334.6 724.9,335.7Z"/>
<path d="M714.4,328.6 714.3,330 713.4,331.6 712.1,331.8 711.7,332.6 710.4,333.2 709.2,333.8 708,333.8 706.1,333.1 704.9,332.3 705.1,331.5 707.2,331.9 708.4,331.7 708.9,330.4 709.2,330.4 709.3,331.8 710.7,331.6 711.4,330.7 712.7,329.7 712.6,328.2 714,328.1Z"/>
<path d="M716.2,329.1 715.4,329.8 715.1,328.2 714.6,327.2 713.6,326.3 712.4,325.2 710.7,324.5 711.4,323.8 712.6,324.6 713.4,325.1 714.3,325.8 715.2,326.9 716,327.7Z"/>
<path d="M722.1,335.1 721.4,335.4 720.5,334.4 719.6,332.7 719.3,330.7 719.6,330.5 719.8,331.3 720.4,331.9 721.5,333.5 722.5,334.4Z"/>
<path d="M0.3,312.3 -0,311.7 -0.7,311.7 -1.1,312.3 -0.7,313 -0,313Z"/>
<path d="M463.2,347.9 462.8,347.2 462.2,347.2 461.8,347.9 462.1,348.6 462.8,348.6Z"/>
<path d="M465.5,349.2 465.2,348.5 464.5,348.5 464.1,349.2 464.5,349.9 465.2,349.9Z"/>
<path d="M494.1,370.4 493.9,369.7 493.2,369.7 492.8,370.4 493.1,371 493.7,371Z"/>
<path d="M489.3,372.5 489,371.8 488.3,371.8 487.9,372.5 488.2,373.1 488.9,373.1Z"/>
<path d="M491.7,329.5 491.4,328.8 490.7,328.8 490.3,329.5 490.6,330.1 491.3,330.1Z"/>
<path d="M378.9,316.6 378.6,316 377.9,316 377.5,316.6 377.9,317.3 378.6,317.3Z"/>
<path d="M309.6,277.8 309.3,277.3 308.8,277.3 308.6,277.8 308.8,278.3 309.3,278.3Z"/>
<path d="M307.7,278.4 307.5,277.9 307,277.9 306.7,278.4 306.9,278.8 307.5,278.8Z"/>
<path d="M311,275.2 310.8,274.7 310.3,274.7 310,275.2 310.2,275.7 310.7,275.7Z"/>
<path d="M308.3,273.9 308.1,273.4 307.6,273.4 307.3,273.9 307.5,274.4 308,274.4Z"/>
<path d="M306.3,272.9 306.1,272.4 305.6,272.4 305.3,272.9 305.5,273.4 306,273.4Z"/>
<path d="M487,284.6 486.7,283.9 486,283.9 485.7,284.6 486,285.3 486.7,285.3Z"/>
</g>
<g stroke="#4a4a4a" stroke-opacity="0.55" stroke-width="0.5" stroke-linejoin="round">
<path fill="#a1d99b" d="M127.9,140.4 129.5,140.5 131,140.6 132.3,141.2 133.6,141.9 136.1,141.2 138.5,140.6 141,140.3 143.5,139.9 145.8,139.7 148.1,139.5 151.9,138.4 152.7,139.5 153.5,140.6 156.4,139.5 157.9,140.4 159.8,140.6 161.6,140.8 163.7,141.2 165.8,141.7 166.7,142.8 167.7,143.9 169.9,144.4 171.9,144.3 174,144.2 176,144.1 177.3,144.6 178.6,145 177.9,146.6 180.9,144.4 184.9,142.8 186.4,143.3 187.9,143.8 189.4,144.4 191.4,144.4 193.4,144.4 195.4,144.4 197.5,142.8 199,143 200.6,143.2 199.4,145.5 202,143.7 204.5,141.9 203.7,141.1 203,140.4 205.1,138.4 207.2,136.5 210,135.2 210.7,136.2 211.4,137.3 210.5,140.4 210.2,142.8 211.6,143.8 212.9,144.8 215.3,142.8 218,141.4 220.8,139.9 222.7,139.9 224.7,139.9 226.6,139.9 226.8,141.2 224.6,143.9 220.6,147.3 217.8,147.5 215.1,147.7 212.7,148.4 210.7,150.2 206.4,152.5 204.2,153.2 201.9,153.9 199.5,154.9 197,155.8 194.3,157.7 191.6,159.6 188.4,162.4 186.8,165.3 186.9,167.5 187.1,169.7 189,169.5 190.8,169.2 192.4,169.7 194,170.2 195.7,172.1 197.6,173 199.5,173.9 202,174.1 204.5,174.4 203.2,177 201.9,179.6 202.3,181.6 203.2,183.8 206.4,183.3 208,180.8 209.4,177.1 208.9,175.3 211.6,174.4 214.2,173.4 217.4,170.2 217.8,167.3 216.6,165.3 220.1,162.4 221.1,159.8 222.2,157.2 223.5,156.5 226,156.9 228.5,157.2 230.3,158 232.1,158.9 233.9,159.5 235.7,160.1 234.7,162.4 233.6,164.8 235.7,166.3 237.8,165.8 239.9,165.3 244,161.7 244.8,164.8 245.5,167.5 246.2,170.2 246.8,173.4 248.9,174.2 251,175.1 251.8,177.1 253.8,179.1 252.8,182.1 249.9,183.6 247.5,185 245,186.3 242,186.5 238.9,186.6 235.9,186.6 232.9,186.6 230.6,187.5 228.3,188.4 225.8,189.6 223.3,190.9 219.1,194.2 221.5,193.2 225.3,190.9 227.6,190.1 229.9,189.4 231.4,189.6 233,189.9 231,192.2 230.1,194.7 231.5,196.8 233.5,197.2 235.4,197.6 237.2,198.3 239.7,194.7 240,197.3 236.9,199.3 234.1,200.2 231.2,201.1 228.7,202.4 226.2,203.7 225.2,202.4 227.5,200.8 229.8,199.1 226.6,199.3 224.3,200.1 223.8,199.1 223.3,198.1 224.5,194.5 223.9,193.8 222.3,194.2 222,193.6 219.6,195.5 218.3,197.6 217,198.8 215,199.9 212.8,199.9 210.6,199.9 208.4,199.9 207.7,200.1 203.7,202.4 202.7,203.5 200.2,203.6 197.6,203.7 197.9,204.2 197.4,205.5 194.6,206.5 191.8,207.4 189,208.4 188.1,207.3 190.5,205 191.7,203.5 192.1,201.3 192.6,199.1 190.8,197.8 189.4,195 187.5,193.8 185.6,192.6 183.8,191.4 181.2,192.2 180.3,191.9 177.3,191.9 174.9,190.7 173.3,190.5 171.7,190.4 171.5,188.6 171,189.6 168.1,189.6 165.1,189.6 162.2,189.6 159.3,189.6 156.3,189.6 153.4,189.6 150.5,189.6 147.5,189.6 144.6,189.6 141.7,189.6 138.7,189.6 135.8,189.6 132.9,189.6 129.9,189.6 127,189.6 124,189.6 121.1,189.6 118.2,189.6 115.2,189.6 114.9,188.9 113.9,188 112.9,187.1 111.6,185.8 110.3,184.6 111,181.6 111.2,178.3 110.7,175.8 113.4,173.4 114.5,172.1 113.5,171.4 112.5,170.7 112.2,169.7 113.3,166.3 112.8,165.1 112.7,162.9 110,163.8 106.9,165.1 106.8,163.8 106.7,162.4 105.2,162.1 103.7,161.7 107,158.6 110.4,155.4 113.8,152.3 117.3,149.3 120.8,146.3 124.3,143.3Z"/>
<path fill="#e5f5e0" d="M224.3,200.1 221.8,201.3 219.3,202.4 216.4,203.7 214.5,206.3 215.4,208.1 211.9,209.2 209.7,209.7 207.4,210.2 205.9,211.5 204.7,214.1 202.5,215.9 200.6,218.5 199,220.6 198.7,223.2 198.9,225 195.6,226.6 192.5,228.7 189.4,230.5 187.3,232 185.1,233.4 183.4,236.3 182.8,238.9 183.2,241.1 183.7,243.3 183.8,247.2 182.7,251.2 180.9,251.4 179.7,248.8 178.4,244.9 179.1,241.5 177.2,238.9 174,239.7 171.5,237.8 168.1,238.1 164.7,238.4 164.8,241 161.9,241 158.8,239.9 156.8,239.8 154.9,239.7 151.9,241 148,243.3 145.6,245.9 145.1,249.5 143.1,248.9 141.1,248.3 140.8,245.4 139.9,243.8 139,241.6 138.1,239.4 135.6,239.4 133.8,241.5 131.1,239.9 130.8,237 128.3,234.2 126.5,234.2 124.6,234.2 124.2,235.5 121,235.5 117.8,235.5 115.4,234.4 113,233.4 110.7,232.3 111.1,231.8 108.3,232.1 105.6,232.3 105.8,230.5 104,228.9 102.7,227.9 99.9,227.1 100.3,224.2 99.5,221.1 99.6,218.5 99.2,216.3 98.9,214.1 98.8,211.7 101.2,208.1 102,205.5 103.8,203.3 105.6,201.1 106.9,199 108.3,196.8 109.3,194 110.4,191.2 112,191.4 113.5,191.7 113.4,193.5 115.2,189.6 118.2,189.6 121.1,189.6 124,189.6 127,189.6 129.9,189.6 132.9,189.6 135.8,189.6 138.7,189.6 141.7,189.6 144.6,189.6 147.5,189.6 150.5,189.6 153.4,189.6 156.3,189.6 159.3,189.6 162.2,189.6 165.1,189.6 168.1,189.6 171,189.6 171.5,188.6 171.7,190.4 173.3,190.5 174.9,190.7 177.3,191.9 180.3,191.9 181.2,192.2 183.8,191.4 185.6,192.6 187.5,193.8 189.4,195 190.8,197.8 192.6,199.1 192.1,201.3 191.7,203.5 190.5,205 188.1,207.3 189,208.4 191.8,207.4 194.6,206.5 197.4,205.5 197.9,204.2 197.6,203.7 200.2,203.6 202.7,203.5 203.7,202.4 207.7,200.1 208.4,199.9 210.6,199.9 212.8,199.9 215,199.9 217,198.8 218.3,197.6 219.6,195.5 222,193.6 222.3,194.2 223.9,193.8 224.5,194.5 223.3,198.1 223.8,199.1Z"/>
<path fill="#f7fcf5" d="M145.1,249.5 143.3,253.3 142.7,255.9 142.2,258.5 142.7,262.4 143.4,264.6 144.1,266.8 146.6,268.4 148.2,269.7 150.5,269.2 152.7,268.7 155.5,267.9 157.1,266.6 157.7,264.5 158.3,262.4 160.6,261.8 162.8,261.1 166.2,261.1 166.4,262.9 164.4,266.3 163.3,269.5 162.2,268.9 160.1,270.4 160,270.8 157.9,270.8 155.8,270.8 155.7,272.2 154.6,272.2 156.7,274.2 156.5,275.3 153.6,275.3 152.3,277.4 152.1,279.4 149.4,276.5 147.3,275 143.8,276.3 140.4,275.7 137.2,273.9 134,272.3 130.9,270.2 127.6,269.2 124.6,266.6 123.7,264 124.8,261.1 123.8,257.7 121.1,253.8 118.4,250.4 118,247.5 116.3,245.2 114.1,242.8 113,239.4 113.1,235.7 110.3,234.2 109.2,237.6 110.1,239.8 111.2,242 112.3,245.4 113.5,249.3 114.3,253 116.2,256.4 114.8,257.4 113.4,255.3 110.8,252.5 111.4,248.8 109.8,247.8 108.1,246.7 106.4,244.6 108.7,242.8 106.8,239.4 106.3,236.3 105.6,232.3 108.3,232.1 111.1,231.8 110.7,232.3 113,233.4 115.4,234.4 117.8,235.5 121,235.5 124.2,235.5 124.6,234.2 126.5,234.2 128.3,234.2 130.8,237 131.1,239.9 133.8,241.5 135.6,239.4 138.1,239.4 139,241.6 139.9,243.8 140.8,245.4 141.1,248.3 143.1,248.9Z"/>
<path fill="#c7e9c0" d="M184.9,294.6 186,296.4 187.5,294 189.2,292.5 189.6,289.6 191.2,288.3 192.7,287.8 194.7,287.8 197.4,286.2 198.6,284.8 199.9,285.7 199.4,286.5 198,287.5 198,287.6 197.2,288.3 195.5,290 194.4,293.4 195.6,293.5 196.4,295.3 196.2,298 197.2,299 199.3,299 201.5,299 203.1,301.4 205,301.2 207,301 207.8,301.4 206.7,303.4 206.6,305.5 207.7,308.2 206.5,310 207.3,310.5 207.9,311.4 208.5,314 208.1,314.3 207.7,312.8 207.1,312 206.3,312.9 204.1,312.9 201.8,312.8 201.8,314.5 203.2,314.7 203.1,315.7 202.6,315.5 201.3,315.9 201.3,317.8 202.3,318.7 202.7,320.2 202.7,321.4 202.2,325 201.8,328.5 200.6,327.2 199.9,327.1 201.3,324.4 199.5,323.2 198.2,323.4 197.3,323 196,323.7 194.3,323.3 192.9,320.6 191.9,319.9 189,317.7 188,317.1 186.8,316.2 186.2,316.6 184.2,316.3 183.7,315.1 183.2,315.2 180.8,313.6 182,310.4 183.2,310.2 185.1,307.2 184.2,306.6 184.7,305.1 184.3,302.7 184.8,302 184.5,299.8 183.6,298.3 185.2,296.6Z"/>
<path fill="#c7e9c0" d="M198,287.6 198.6,288.8 200,288.5 201.9,287.5 202.4,285.4 203.3,287.2 205.7,287.8 206.3,289.6 209.1,289.6 211.4,289.6 213.6,290.9 215.3,290.1 218.3,289.3 220.8,289.3 218.9,290.1 219.6,291.4 221.4,291.7 223.2,293 223.3,294.8 225.4,295.5 223.6,297 223.4,297.9 224.1,298.9 223.5,299.4 222.1,299.8 222.1,301 221.5,301.7 223,303.7 223.3,304.4 222.4,305.4 219.8,306.4 218.1,306.8 217.4,307.4 215.6,306.8 213.9,306.5 213.5,306.7 214.5,307.4 214.4,309.1 214.6,310.8 216.6,311 216.7,311.5 215.1,312.3 214.8,313.4 213.8,313.8 212.1,314.4 211.6,315.2 209.8,315.4 208.5,314 207.9,311.4 207.3,310.5 206.5,310 207.7,308.2 206.6,305.5 206.7,303.4 207.8,301.4 207,301 205,301.2 203.1,301.4 201.5,299 199.3,299 197.2,299 196.2,298 196.4,295.3 195.6,293.5 194.4,293.4 195.5,290 197.2,288.3ZM198.6,288.8 197.9,289.6 197.3,291.4 197.5,293 198.9,293.3 199.7,291.4 199.5,289.2Z"/>
<path fill="#41ab5d" d="M243.7,306.3 245.3,307.1 245.6,309.2 246,311.3 247.6,312.9 247.8,314.7 246.4,317.3 246.6,317.6 248.7,317.7 250.8,317.8 251.5,319.9 252.6,318.9 255.6,319.9 257.5,320.7 259.3,321.5 260.5,323.1 260.1,324.4 262.8,323.6 265,324.2 267.2,324.9 270.7,324.7 274.2,327 277.2,329.8 279.4,330.4 281.6,330.9 282.4,334.3 282.9,336.1 282.7,339 281.4,341.9 279.1,344.7 277.4,347.1 275.9,350.5 274.8,351.3 273.7,353.4 273.8,355.6 273.9,357.8 274.1,361.7 272.9,365.1 272.7,368.5 271,371.7 270.3,374.5 268.6,376.1 268.3,377.3 265.6,377.4 262.2,378.2 260.5,379.1 258.8,380 255.6,382.7 254.3,385 254.3,387.9 254.5,391.3 252.8,393.6 251.9,396 251,398.3 248.4,401.5 247.3,403.5 246.2,405.5 245.4,404.1 246.1,402.9 244.6,401.1 242.6,399.6 240.1,397.9 239.3,398 236.7,396 235.3,396.3 237.8,392.7 240,390.2 241.3,389.1 243,387.7 242.8,385.6 240.5,384.6 240.8,383.1 240.9,381.5 240.8,380.1 239.9,379.6 239.1,380 238.3,379.9 237.9,378.9 237.5,376.5 237,375.7 235.4,375 234.5,375.5 232.1,375 231.9,371.5 231.1,370.1 231.8,369.5 231.4,368 231.9,366.9 232.2,364.8 231.5,363.2 230.2,362.4 229.9,361.4 230.1,359.9 227.9,359.9 225.7,359.8 224.6,356.7 225.3,356.7 225.2,355.6 224.7,354.8 224.5,353.3 223.1,352.5 221.7,352.6 220.7,351.8 219.1,351.3 218.1,350.3 215.5,349.9 212.9,347.5 213,345.8 212.7,344.8 212.8,342.8 209.8,343.3 208.7,344.3 206.7,345.3 206.2,346.1 205,346.2 203.3,345.9 202.1,346.4 201,346.1 201,344.1 200.9,342.1 199.1,343.6 197.1,343.6 196.2,342.2 194.6,342 195,340.9 193.7,339.3 192.6,337 193.2,336.5 193.2,335.4 194.5,334.6 194.3,333.2 194.8,332.3 194.9,331.1 197.5,329.3 199.4,328.8 199.7,328.4 201.8,328.5 202.2,325 202.7,321.4 202.7,320.2 202.3,318.7 201.3,317.8 201.3,315.9 202.6,315.5 203.1,315.7 203.2,314.7 201.8,314.5 201.8,312.8 204.1,312.9 206.3,312.9 207.1,312 207.7,312.8 208.1,314.3 208.5,314 209.8,315.4 211.6,315.2 212.1,314.4 213.8,313.8 214.8,313.4 215.1,312.3 216.7,311.5 216.6,311 214.6,310.8 214.4,309.1 214.5,307.4 213.5,306.7 213.9,306.5 215.6,306.8 217.4,307.4 218.1,306.8 219.8,306.4 222.4,305.4 223.3,304.4 223,303.7 224.2,303.6 224.7,304.2 224.4,305.4 225.1,305.7 225.6,306.9 225,307.9 224.6,310.1 225.1,311.4 225.3,312.6 226.7,313.8 227.8,314 228.1,313.5 228.8,313.4 229.9,312.9 230.6,312.2 231.9,312.4 232.5,312.3 233.7,312.5 234,312 233.6,311.5 233.8,310.7 234.7,311 235.8,310.7 237.1,311.3 238.1,311.8 238.9,311.1 239.4,311.2 239.7,311.9 240.8,311.8 241.7,310.8 242.4,308.8Z"/>
<path fill="#e5f5e0" d="M235.3,405.9 235.3,407.2 238.6,409.6 238.9,411.9 240.4,412.7 239.7,414.9 239.1,417.1 236.6,418.4 234.6,418.8 232.6,419.2 229.6,418.7 230.3,421 231,423.4 230.3,424.4 228,424.2 225.7,423.9 225.5,425.7 226.2,427.3 228.7,427.3 229.5,429.1 227.9,429.3 227.2,430.6 227.3,432.7 227.5,434.7 225.8,435.5 224.2,436.3 224.2,438.1 226.9,439.9 229,440.6 229,442.7 227.2,444.5 227,447.2 225.6,448.3 225.2,449.3 226.9,452 228.7,453.4 227.9,453.3 225.9,452.9 223.4,452.7 221,452.6 219.5,451.1 218.8,449.2 217.5,449.4 216.4,448.5 215.2,445.8 216.3,444.7 216.3,443 215.6,441.8 215.9,439.6 215.4,436.2 214.7,434.7 215.4,434.2 214.9,433.2 213.7,432.7 214,431.6 212.8,430.6 211.3,427.6 212,427.1 210.6,424 210.3,421.3 210.2,419 211.2,418 209.9,415.5 209.3,413.1 210.5,411.4 209.9,409.2 210.5,406.7 210,404.3 209.3,403.8 208.3,401.6 207.3,399.3 208.2,396.6 207.5,394.1 207.9,391.7 208.9,389.2 210.3,387.6 209.5,386.6 209.8,385.8 209.4,383.6 209.1,381.4 211.4,380.1 211.6,376.7 213.2,374.4 216.2,375 217.7,376.9 218.4,374.8 221,374.9 221.4,375.5 223.7,377.6 226,379.7 227.9,380.1 230.8,382 233.2,383.1 233.7,384.2 232.8,386.2 232,388.2 234.3,388.9 236.9,389.3 238.6,388.9 240.4,386.9 240.5,384.6 242.8,385.6 243,387.7 241.3,389.1 240,390.2 237.8,392.7 235.3,396.3 235.1,398.4 235,401.1 235.5,403.7 235.1,404.2Z"/>
<path fill="#a1d99b" d="M228.7,453.4 226,453 224.1,454.8 224.7,457 221.5,456.3 218.3,454.5 215.4,453.3 213.8,451.5 214,450 212.1,448.5 211.1,446.4 210.2,444.2 210,441.6 211.4,439.6 209.7,439.3 208,439 209.2,436.8 208.7,434.6 208.3,432.4 211,433.3 210.6,430.7 210.2,428 208.5,427.3 209,430.6 207.6,430.1 207,426.5 206.5,424 206.1,421.6 206.7,419.9 205.3,417.4 204.3,414.5 205.1,414.3 205.2,412.2 205.4,410.1 205.6,408 205.8,405.9 206,402 204.5,398.1 204.8,396 204,392.8 204.7,389.4 204.6,387 204.4,384.5 204.4,381.7 204.4,379 204.4,376.1 204.4,373.2 204.1,371.1 203.7,368.9 202.9,365.3 204,364.6 204.5,363.3 205.8,365 206.3,366.9 207.6,368 207.2,370.5 208.7,373.5 210,377.1 211.6,376.7 211.4,380.1 209.1,381.4 209.4,383.6 209.8,385.8 209.5,386.6 210.3,387.6 208.9,389.2 207.9,391.7 207.5,394.1 208.2,396.6 207.3,399.3 208.3,401.6 209.3,403.8 210,404.3 210.5,406.7 209.9,409.2 210.5,411.4 209.3,413.1 209.9,415.5 211.2,418 210.2,419 210.3,421.3 210.6,424 212,427.1 211.3,427.6 212.8,430.6 214,431.6 213.7,432.7 214.9,433.2 215.4,434.2 214.7,434.7 215.4,436.2 215.9,439.6 215.6,441.8 216.3,443 216.3,444.7 215.2,445.8 216.4,448.5 217.5,449.4 218.8,449.2 219.5,451.1 221,452.6 223.4,452.7 225.9,452.9 227.9,453.3Z"/>
<path fill="#c7e9c0" d="M202.9,365.3 200.5,363.8 200.1,362.8 197.8,361.5 195.5,360.2 193.4,358.7 191.2,357.3 189.2,355.6 188.1,353.4 188.3,352.6 186.2,349.2 184.9,346.8 183.6,344.5 182.4,341.9 181.2,339.3 179.2,336.1 177.5,334.3 175.8,333.2 176.5,332.2 175.3,329.6 175.9,327.8 177.7,326.2 178,327.3 177.4,327.9 177.5,328.9 178.4,328.7 179.4,328.9 180.4,330.3 181.6,329.2 182,327.4 183.4,325.1 186.1,324.1 188.6,321.4 189.3,319.7 189,317.7 191.9,319.9 192.9,320.6 194.3,323.3 196,323.7 197.3,323 198.2,323.4 199.5,323.2 201.3,324.4 199.9,327.1 200.6,327.2 201.8,328.5 199.7,328.4 199.4,328.8 197.5,329.3 194.9,331.1 194.8,332.3 194.3,333.2 194.5,334.6 193.2,335.4 193.2,336.5 192.6,337 193.7,339.3 195,340.9 194.6,342 196.2,342.2 197.1,343.6 199.1,343.6 200.9,342.1 201,344.1 201,346.1 202.1,346.4 203.3,345.9 204.4,348 205.6,350.1 205.1,351 205.2,352.9 205.3,355.1 204.5,356.4 205,357.3 204.5,358.2 205.7,360.4 204.5,363.3 204,364.6Z"/>
<path fill="#c7e9c0" d="M177.7,326.2 178.8,324.2 178.3,323.1 177.4,324.4 176,323.2 176.5,322.4 176.2,320 176.9,319.7 177.4,318.1 178.3,316.4 178,315.3 179.4,314.7 180.8,313.6 183.2,315.2 183.7,315.1 184.2,316.3 186.2,316.6 186.8,316.2 188,317.1 189,317.7 189.3,319.7 188.6,321.4 186.1,324.1 183.4,325.1 182,327.4 181.6,329.2 180.4,330.3 179.4,328.9 178.4,328.7 177.5,328.9 177.4,327.9 178,327.3Z"/>
<path fill="#e5f5e0" d="M113.4,173.4 110.5,173.4 109.8,170.9 111.3,167.3 109.7,166.9 108.2,166.5 106.6,165.3 105.8,164.2 105,163.2 103.5,162.8 102.1,162.4 99.8,162.4 97.5,162.4 96.6,161.5 95.8,160.5 93.9,160.7 91.9,160.8 86.5,163.2 83.7,163.8 81,164.4 85,161.2 89.6,159.6 86.1,160.7 82.6,161.7 78.1,164.1 74.1,166.5 71.1,167.8 68.1,169 64.9,170.2 61.7,171.4 58.1,172.5 54.6,173.6 52,174.2 49.4,174.9 46.7,175.3 43.9,175.8 46.7,174.9 49.5,173.9 52.3,173 55.2,172.1 59.6,170.7 62.4,169.6 65.2,168.5 68.9,166.3 67.5,166.2 66,166.1 64.9,165.7 63.7,165.3 60.6,165.6 63.1,163.4 60.9,162.9 60.4,162 59.9,161 61.6,158.6 64.5,157 68.7,155.1 71.1,154.6 73.5,154.2 76.4,153.9 79.7,151.6 77.9,151.9 76.1,152.1 73.8,151.9 71.7,151.7 69.7,151.6 69.8,150.5 70,149.3 72,148.9 74,148.4 76.5,147.8 79,147.3 79.2,148.2 81,148.1 82.8,148 84.9,146.4 83.6,146.1 82.3,145.9 82.9,143.9 81.6,143 84.7,142 86.9,141.6 89.2,141.2 93,139.7 95.5,139.2 98,138.6 100.7,138.2 103.4,137.7 107.6,136.6 108.7,136.9 109.8,137.3 111.5,137.5 113.2,137.7 115.2,138.1 117.3,138.4 119.3,138.7 121.3,139 123.3,139.2 125.2,139.3 126.5,139.8 127.9,140.4 124.3,143.3 120.8,146.3 117.3,149.3 113.8,152.3 110.4,155.4 107,158.6 103.7,161.7 105.2,162.1 106.7,162.4 106.8,163.8 106.9,165.1 110,163.8 112.7,162.9 112.8,165.1 113.3,166.3 112.2,169.7 112.5,170.7 113.5,171.4 114.5,172.1Z"/>
<path fill="#e5f5e0" d="M228.2,454.2 231,457.1 234.2,458.6 237.2,459.3 236.9,460.5 235,460.6 234.1,460.7 232.3,461.5 231.3,461.4 229.7,457.8Z"/>
<path fill="#a1d99b" d="M231.3,461.4 230.1,461.2 227.1,460 223.6,458.8 220.4,457.4 216.5,454.6 218.4,455.2 221.8,456.8 224.9,457.7 225.3,456.5 225.2,454.9 226.6,453.8 228.2,454.2 229.7,457.8Z"/>
<path fill="#e5f5e0" d="M414.9,140.4 416.4,139.7 417.9,140.3 419.5,141 421.9,141.3 424.2,141.6 426.6,142.4 429,143.2 431.5,144.1 433.1,145.1 433.8,146.6 432.3,147.8 430.9,148.1 429.6,148.4 426.9,147.8 424.1,147.3 421.4,146.7 420.2,147 421.8,147.8 423.5,148.6 424.7,152.1 427.1,152.8 428.7,153.4 428.6,152.2 427.3,151.3 428.1,150.4 430.5,151.1 432.8,151.8 434.1,151.3 432.4,149.6 434,148.4 435.7,147.3 437.3,147.5 439.2,148.3 439.7,146.7 437.7,145.4 438.1,144 436.3,142.6 438.8,143 441.3,143.3 442.7,144.6 440.7,144.9 441.2,146.1 442.9,146.9 444.1,146.6 445.3,146.4 445.2,145 446.7,144.4 448.3,143.9 450,143.3 451.7,142.6 453.3,142 454.6,142.1 453.6,143.5 455.8,143.7 456.7,142.9 458.2,142.9 459.8,142.9 461.8,141.9 464.4,143.3 465.6,141.8 463.2,140.5 463.6,139.8 466.3,140.1 468.9,140.5 471.6,141.2 474.1,142 476.7,142.9 479.2,143.7 479.6,142.5 477.2,141.4 476.9,140.9 474.8,140.7 474.7,139.6 472.8,137.9 472.3,137.3 473.2,136.3 474,135.3 473.8,133.4 474.7,133 477,133.3 479.3,133.5 480.5,134.7 480.2,136.4 481.7,137.1 483.2,138.6 484.8,141.6 487.5,143 487.7,144.5 487,146.1 486.3,147.7 488.5,148 488.7,147.2 490.2,146.6 490,145.5 490.8,144.4 489,143.2 488.8,141.7 486.9,141.5 485.7,140.3 485.5,138.1 482.1,136.4 483.1,135.6 484,134.9 482.5,133.4 483.3,133.4 485,134.5 485.9,136.6 487.9,137 486.1,135.5 487.1,135 488.1,134.6 489.8,134.6 491.4,134.5 493.4,135.1 495.3,135.7 492.5,134 490.5,131.7 491.7,131.5 492.9,131.3 494.8,131.3 496.8,131.4 498.4,131.2 500,131.1 497.7,130 498.3,128.7 500,128.6 501,128.1 502,127.6 503.9,127.5 505.8,127.4 505.7,126.8 507.6,126.7 509.5,126.6 511.3,127.1 512.4,126.6 513.5,126 514.9,126 516.3,126.1 515.7,125.2 516.1,124.4 517.4,124 518.7,123.6 520.4,123.9 522.1,124.2 520.6,124.7 522.5,124.9 524.4,125 526.1,126 526.8,125.5 529.1,125.5 531.3,125.5 533.7,126 536,126.5 538.2,127.2 539.2,128.3 538.2,128.9 536.9,129.4 535.5,130 535,130.6 537.3,130.9 540.2,131.4 541.2,131 543.6,132.4 543.6,131.8 544.7,131.7 545.8,131.5 547.6,131.6 549.4,131.7 551.3,131.8 552.8,132.8 555.2,132.9 557.5,133 559.9,133.1 558,131.5 559.9,131.7 561.8,131.9 563.1,131.9 564.3,131.9 566.3,132.4 568.3,133 570.8,134.3 571,135.2 575.1,136.9 576.9,137.3 578.8,137.8 577.5,135.5 579.4,136 581.3,136.5 582.4,136.2 583.4,135.9 585.4,136.2 587.4,136.6 587.8,136 589.3,136.1 590.9,136.3 587,134.3 587.9,133.4 590.2,133.6 592.5,133.8 594.9,134 597.3,134.2 599.6,134.4 602,134.6 604.4,134.8 607.6,136 610.9,136.8 614.2,137.7 616.2,137.5 618.3,137.4 620.3,137.3 622.2,137.4 624,137.6 626.8,138.5 628.9,140.1 631.8,140.7 633.4,140.3 634.8,140.2 636.3,140.2 638.2,140.4 640.1,140.6 641.5,140.5 642.9,140.4 645.8,141.4 648.7,142.4 649.7,141.7 646.3,140.3 645.5,139.3 647.6,139.5 649.6,139.7 651.7,139.9 653.4,139.8 655,139.7 658.2,140.3 661.4,140.8 665.3,141.8 669.9,144.7 674.4,147.7 678.8,150.7 678,151.8 675.5,151.6 678.8,152.8 682.6,154.8 684.3,155.4 685.8,156.4 686.2,157 684.2,156.7 682.2,156.5 680.8,157.4 679.5,158.2 678.2,158.5 677.9,159.3 677.6,160.2 676.8,161.6 677.5,162.7 672.8,161.1 671.5,162 670.3,162.9 668.4,162.1 667.8,163.1 664.9,162.8 666.2,164.3 666.7,166.7 667.9,167.7 670.6,168.2 674.3,171.8 672.7,171.8 674,173.9 675.9,175 674.9,175.6 673.9,176.2 676.1,179.1 673.8,179.7 675.6,182.2 674.9,184.6 672.6,182.8 668.3,179.2 665.1,176.4 661.7,173.7 659.1,170.3 659.2,168.8 658,167.7 659.2,167.4 660.3,167.1 660.3,165.6 660.3,164.1 660.4,162.9 660.5,161.6 661,160.7 661.5,159.7 658.9,156.4 656.9,156.6 658.3,158.5 657.5,159.8 656.8,161.2 651.8,158.2 649.9,158.6 648.1,159 648.1,161 648,163 651.2,164.5 649.5,164.8 647.8,165.1 646.5,165.3 645.2,165.4 643.4,163.6 641.7,163.4 640.1,163.3 639.1,164.5 637,164.3 635,164.2 633,164 631.2,164.3 629.4,164.5 627.6,164.7 627.2,166.3 626.7,167.9 626.2,169.5 625.6,171.4 624.9,173.3 624.1,175.3 625.8,175.4 627.5,175.6 629.8,177.1 632.1,177.7 632.3,176.5 634.6,176.6 639.8,179.3 641.7,181.5 642.3,184 644.5,187 645.6,189 646.6,191 646.4,192.9 646.2,194.7 646.8,196.5 646,199.5 645.2,202.5 644.8,204 642.9,205.5 641.6,205.5 639.6,204.3 637.9,206.2 638.1,207 637.5,206.6 636.7,205.3 637.7,205.2 636.2,202.2 634.2,199.9 635.4,199 638.2,199.5 637.9,197 636.8,194.2 636.9,193.3 636.4,191 635,191.3 633.6,191.7 632.5,192.7 630.9,192.7 629.4,192.7 626.9,190.3 623.3,188.5 621.3,188.1 619.3,187.7 616.7,185.2 614.9,183.7 613.4,182.6 610.2,180.1 607.8,179.2 604.3,178.4 601.8,178.5 599.7,179 599,180.2 600.5,180.8 601.5,182.2 601,183 601.1,185.6 601.8,186.8 600,188.3 597,187.4 594.7,187.6 593.2,186.8 591.8,186.5 590,188.3 587.6,188.7 586.1,189.3 583.3,188.9 581.5,188.9 579.5,187.6 576.8,186.4 574.6,186.1 572.2,186.4 570.6,186.9 567.2,185.8 565.7,183.9 563,183.3 561,183 558.2,181.9 557.6,184.6 559.3,186 558.3,187.8 555,187.2 553,187.1 551,185.9 548.9,185.8 546.8,185.1 545.6,185.7 544.4,186.3 543,187.4 541.6,188.4 539.7,188.9 539,189.1 537.2,187.5 534.8,187.9 533.4,186.8 531.8,186.3 530.1,184.9 528.8,184.4 526.3,185.1 522.9,183.6 522.4,184.9 518.7,181.7 515,178.6 511.6,176.6 511.9,175.9 510,177 508.1,178.2 506.3,178.4 505.9,177 503,176.1 501.2,176.8 499.4,174.2 497.6,173.9 495.7,173.6 494.5,174.7 492.3,175.1 490,175.6 489.4,176.2 487.1,176.5 484.7,176.8 482.4,177.1 481.9,177.9 483.9,179.6 482.3,180.3 482.9,180.9 481.5,182.2 483.4,183 485.3,183.9 485.2,185.1 482.4,185 482.1,185.7 479.1,184.4 477.5,184.5 475.9,184.5 474.2,185.5 471.5,184.5 469,183.6 466.6,182.8 465,182.8 463.5,182.9 461.8,184.2 460.2,185.6 460.4,187.4 458,186 457.1,188.7 457.8,189.3 457.1,191.2 459.3,192.9 460.8,192.8 462.5,194.5 462.6,195.9 463.7,196.3 463.2,197.8 461.3,198.2 459.8,200.9 462.3,203.3 462.5,205 465.4,208.1 464.4,209.1 464.2,209.8 463.2,209.6 461.4,208 460.8,208 459.4,207.4 458.5,206.3 456.4,205.8 455.2,206.2 454.8,205.7 451.7,204.4 448.5,204 446.7,203.6 446.5,203.9 443.4,201.7 440.8,200.7 438.8,199.2 440.2,198.8 441.5,196.7 440.2,195.7 443,194.6 442.8,194.1 441.1,194.5 440.9,193.3 441.8,192.6 443.8,192.4 443.9,191.6 443.2,190.2 443.7,188.9 443.5,188.1 440.4,187.3 439.2,187.3 437.7,186.1 436.3,186.5 433.6,185.6 433.5,185.2 432.6,184.1 431,183.9 430.6,183.2 431,182.7 429.5,181.2 427.5,181.5 426.9,181.3 426.5,181.9 425.7,181.8 424.9,180.2 424.3,179.4 424.6,179.1 426.2,179.2 426.9,178.7 426.2,178 424.8,177.6 424.8,177.2 423.9,176.7 422.4,175.1 422.7,174.4 422.2,173.2 420.3,172.7 419.3,173 418.9,172.3 416.8,171.7 415.7,170.3 415.7,169.1 415.2,167.8 414.2,165.5 415.2,164.1 416.7,162.4 414.5,161.2 416.2,159.7 417.8,158.2 419.1,156.8 419.5,155.6 416.5,154.1 416.8,152.5 414.8,150.8 415.6,148.8 412.9,146.3 414.1,144.6 412.6,143.8 411.1,143.1 411,141.6 412.3,141.3 413.6,140.9Z"/>
<path fill="#e5f5e0" d="M638,216.4 641.3,219.5 642.7,221.2 644.1,224.2 643.9,225.6 642.2,226.1 640.9,227.2 639,227.4 638.2,226 637.7,224 635.5,221.3 636.9,220.9 634.4,218.6 635.4,218.5 635.7,217.3 637.2,217.2Z"/>
<path fill="#e5f5e0" d="M627.5,213 624.9,213.7 624,214.9 622,215.6 622.6,214.4 621.6,213.4 622.4,211.7 620.6,210.3 619.2,211.3 617.7,213 617.2,214.7 615.2,214.9 614.6,216.1 616.6,217.8 618.5,218.2 619.1,219.4 621.2,220.2 622.7,218.3 625.1,219.3 626.6,219.4 627.5,220.8 624.8,221.5 624.4,222.9 622.8,224.2 622.5,226 625.4,227.5 627.3,230 629.5,232.4 631.7,234.5 632.4,236.4 631.2,237.1 632.2,238.5 633.8,239.3 634.1,241.4 634.1,243.5 633,243.7 632.2,246.6 631.2,250 629.8,253.1 627.2,255.6 624.5,257.8 622,258 620.9,259.2 619.9,258.4 618.9,259.7 616,261 613.6,261.4 613.3,264.1 612.1,264.3 611.2,262.4 611.5,261.4 608.4,260.5 607.4,261 605,260.3 603.7,259.2 603.8,257.7 601.7,257.2 600.4,256.3 598.7,257.6 596.6,258 594.8,257.9 593.7,258.6 592.6,259 593.4,262 592.2,261.9 591.9,261.3 589.9,260.9 589,260.5 587.2,259.5 587.5,257.3 586,256.8 585.1,254.4 582.8,254.8 582.5,251.7 584.2,249.5 583.8,247.4 583.3,245.4 582.2,244.8 581.1,243.2 579.9,243.4 577.4,243 577.9,241.9 576.4,240.3 575.1,241.4 573.1,240.8 570.9,242.4 569.3,244.4 567.6,244.7 566.5,244 565.3,244 563.6,243.3 562.5,244 561.4,245.9 560.8,243.9 559.6,244.4 556.9,244.2 554.3,243.6 552.2,242.4 550.4,241.9 549.4,240.7 548,240.3 545.4,238.6 543.5,237.8 542.7,238.4 539.2,236.6 536.7,234.9 535.4,232 537,232.4 536.8,231.1 535.6,229.7 535.2,227.6 532.1,224.5 530.2,224 528.2,223.5 527.1,221.5 525.1,220.3 524.5,219.5 523.8,218 523.6,217 522.1,216.4 521.5,216.7 520.2,214.3 520.2,213.1 521.8,211.8 523.1,211.3 525.5,211.7 525.7,210 528.4,209.7 528.8,208.7 530.2,208 531.6,207.3 531.7,206.7 531,205.2 532.2,204.5 530.4,202.3 528.6,200.1 530.4,199.6 532.3,199 533.1,198.5 532.9,196.2 532.7,193.9 534.9,194.3 537.1,194.7 537.7,193.6 536.7,191 538.3,190.8 539,189.1 539.7,188.9 541,190.7 543.4,192 546.7,193 549.1,195 549.7,198 550.9,199.1 553.5,199.6 556.5,199.9 559.7,201.5 561.1,201.8 563.2,204.2 565.1,205.7 567.4,205.7 569.7,206 572,206.3 574.6,205.9 576.8,206.3 580.7,207.8 583.2,207.8 584.5,208.6 586.3,207.3 587.8,206.8 589.3,206.4 592.4,206.3 594.4,205.4 595.2,204 596.2,203.1 595.4,202.3 594.2,201.2 594.4,199.6 595.7,199.8 598.1,200.3 599.4,199 600.7,198.5 602,198 602.5,196.3 603.5,195.6 606.3,195.2 608.1,195.5 607.7,194.6 604.8,192.8 602.7,192 601.7,193 599.5,192.6 598.5,192.9 597.3,191.8 597.2,189.3 597,187.4 600,188.3 601.8,186.8 601.1,185.6 601,183 601.5,182.2 600.5,180.8 599,180.2 599.7,179 601.8,178.5 604.3,178.4 607.8,179.2 610.2,180.1 613.4,182.6 614.9,183.7 616.7,185.2 619.3,187.7 621.3,188.1 623.3,188.5 626.9,190.3 629.4,192.7 630.9,192.7 632.5,192.7 633.6,191.7 635,191.3 636.4,191 636.9,193.3 636.8,194.2 637.9,197 638.2,199.5 635.4,199 634.2,199.9 636.2,202.2 637.7,205.2 636.7,205.3 637.5,206.6 635.2,205 635.3,206.5 634,207.1 632.7,207.6 633.8,209 631.9,208.9 630.4,208.1 630,209.9 628.4,211.3Z"/>
<path fill="#c7e9c0" d="M607.4,261 604.7,263.2 603.2,265.7 603,267.5 605.2,270.2 607.8,273.6 610.1,275.3 611.8,277.4 612.6,279.8 613.4,282.2 613.5,284.5 613.6,286.8 611.9,288.5 609.4,290.2 607.7,292.4 605,294.8 604,293.1 604.5,291.4 602.7,289.9 604.6,288.8 607,288.7 605.8,287.1 607.7,286 609.5,285 609.4,281.9 608.7,280.2 608.9,277.6 608,275.7 606,273.9 604.3,271.6 601.9,268.5 599,266.9 599.4,266 600.8,265.3 599.6,263 596.7,263 595.3,260.6 593.7,258.6 594.8,257.9 596.6,258 598.7,257.6 600.4,256.3 601.7,257.2 603.8,257.7 603.7,259.2 605,260.3Z"/>
<path fill="#f7fcf5" d="M598.3,285.4 596.1,284.2 594.2,284.3 594.3,282.2 592.3,282.2 592.4,285.1 591.5,288.9 590.9,291.3 591.2,293.1 592.7,293.2 593.8,295.6 594.3,297.9 595.7,299.4 597.1,299.7 598.4,301 597.7,302.1 596.2,302.4 595.9,301.1 594,299.9 593.6,300.4 592.6,299.4 592.2,298.1 590.9,296.6 589.7,295.4 589.4,296.9 588.9,295.5 589,293.9 589.5,291.3 590.4,288.7 591.5,286.2 590.4,283.8 590.3,282.6 589.9,281.1 588.1,279.1 587.4,277.8 588.2,277.3 588.7,275 587.6,273.3 585.9,271.4 584.5,269.1 585.3,268.6 585.9,265.8 587.5,265.7 588.7,264.5 589.9,263.9 591,264.7 591.4,266.3 592.9,266.4 592.8,269.2 593.2,271.5 595.3,270 596.1,270.4 597.4,270.4 597.7,269.4 599.5,269.6 601.5,271.7 602,274.3 604.2,276.6 604.4,278.8 603.8,280 601.6,279.6 598.7,280.1 597.4,282.3Z"/>
<path fill="#f7fcf5" d="M598.4,301 598.9,301.3 600.3,302.9 601.4,304.6 601.6,306.4 601.4,307.5 601.7,308.5 601.9,310 602.7,310.7 603.7,313 603.7,313.9 602,314.1 599.8,312.2 597,310.1 596.7,308.8 595.3,307 594.9,304.8 594,303.4 594.2,301.5 593.6,300.4 594,299.9 595.9,301.1 596.2,302.4 597.7,302.1Z"/>
<path fill="#f7fcf5" d="M572.2,263.3 571.4,261.9 571.1,260.6 570.5,259.3 569.3,257.8 567.2,257.7 567.6,258.8 567.1,260.2 566,259.7 565.8,260.2 565.1,259.9 564.2,259.6 563.5,257.5 562.4,255.5 562.6,254 561.1,253.3 561.5,252.3 562.7,251.3 560.8,249.9 561.3,248.2 563.3,249.3 564.4,249.4 564.9,251.2 567.1,251.6 568.8,251.8 570.6,252 569.6,254.2 568.9,254.4 568.4,255.9 569.9,257.2 570,255.6 570.6,255.5 571.5,257.6 572.4,259.7 572.6,261.6 571.8,261.2Z"/>
<path fill="#e5f5e0" d="M564.2,259.6 564,260.6 562.5,260.6 559.7,261.1 560.1,263.1 559.1,264.6 556.1,266.4 553.9,269.5 552.4,271.1 550.3,272.8 550.5,274 549.4,274.7 547.4,275.6 546.4,275.7 545.9,277.7 546.7,281.1 547,283.3 546.2,285.8 546.4,288 546.5,290.2 545.3,290.3 544.4,292.3 545.1,293.2 543.1,294 542.4,295.7 541.5,296.5 539.2,294 537.9,290.4 536.9,287.7 536,286.5 534.6,284 533.8,280.7 533.3,279.1 530.9,275.5 530.2,273 529.4,270.4 528.4,267.1 528,263.9 527.3,261.5 524.2,263 522.6,262.7 519.3,259.6 520.2,258.6 519.5,257.6 516.6,255.4 517.9,253.6 520.3,253.6 522.8,253.6 522.1,251.4 520.6,250.1 520.1,248.1 518.4,246.9 520.5,244.1 523.1,244.3 524.9,241.6 525.8,238.9 527.4,236.3 527,234.5 528.6,232.9 526.5,231.7 525.3,229.9 524,227.6 524.8,226.5 526.5,226.8 528.2,227.1 530.6,226.7 532.1,224.5 535.2,227.6 535.6,229.7 536.8,231.1 537,232.4 535.4,232 536.7,234.9 539.2,236.6 542.7,238.4 541.5,239.6 541.2,242 543.5,243 545.9,244.3 549.1,245.8 552.2,246.1 553.7,247.4 555.5,247.7 558.3,248.3 560.2,248.3 560.2,247.2 559.6,245.5 559.6,244.4 560.8,243.9 561.4,245.9 561.6,246.5 563.8,247.5 565.1,247 567,247.2 568.8,247.1 568.7,245.5 567.6,244.7 569.3,244.4 570.9,242.4 573.1,240.8 575.1,241.4 576.4,240.3 577.9,241.9 577.4,243 579.9,243.4 580.3,244.4 579.6,244.9 580.1,246.5 578.4,246 575.9,247.8 576.3,249.3 575.5,251.5 575.6,252.8 574.9,255 573.1,254.4 573.4,257.1 573,258 573.4,259.1 572.4,259.7 571.5,257.6 570.6,255.5 570,255.6 569.9,257.2 568.4,255.9 568.9,254.4 569.6,254.2 570.6,252 568.8,251.8 567.1,251.6 564.9,251.2 564.4,249.4 563.3,249.3 561.3,248.2 560.8,249.9 562.7,251.3 561.5,252.3 561.1,253.3 562.6,254 562.4,255.5 563.5,257.5Z"/>
<path fill="#e5f5e0" d="M516.6,255.4 514.8,254.7 514,252.8 512,250.8 509.9,251.1 507.9,251.3 506.1,251.3 504.3,251.4 501.1,251.7 501.6,248.7 504.7,247.3 504.3,246.1 503.2,245.7 502.8,243.4 500.5,242.3 499.3,240.7 498,239.3 500,240 501.9,240.7 504.1,240.3 505.5,240.6 505.8,240 507.4,240.3 510.1,239.2 509.8,236.9 510.8,235.5 512.4,235.5 512.5,234.7 514.1,234.4 515,234.6 515.7,233.9 515.2,232.3 515.8,230.7 517.1,230.1 515.8,228.4 517.9,228.4 518.3,227.5 518,226.5 518.8,225.4 518.2,224.1 517.4,223 518.4,221.9 520.6,221.3 523,221 524,220.5 525.1,220.3 527.1,221.5 528.2,223.5 530.2,224 532.1,224.5 530.6,226.7 528.2,227.1 526.5,226.8 524.8,226.5 524,227.6 525.3,229.9 526.5,231.7 528.6,232.9 527,234.5 527.4,236.3 525.8,238.9 524.9,241.6 523.1,244.3 520.5,244.1 518.4,246.9 520.1,248.1 520.6,250.1 522.1,251.4 522.8,253.6 520.3,253.6 517.9,253.6Z"/>
<path fill="#f7fcf5" d="M501.1,251.7 499,251.3 496.8,251 494.3,250.4 491.7,250 490.4,246.8 489.3,246.4 487.6,246.8 485.5,248.1 482.7,247.2 480.2,245.2 477.9,244.4 476.1,242 474,238.5 472.9,238.9 471.4,238 470.7,239.1 469.3,237.7 469.1,236.3 468.4,236.3 468.5,234.4 467,232.4 464.2,231 462.3,228.5 462.5,226.5 463.4,225.6 463,224 461.5,223.3 459.6,220.1 458,218.1 458.3,217.3 457.1,214.3 458.5,213.5 459,214.5 460.3,215.7 461.8,216.1 462.6,216 464.7,214.1 465.5,213.9 466.3,214.6 465.8,215.9 467.4,217.3 467.9,217.2 468.9,219.1 471.1,219.6 472.8,220.9 475.9,221.4 477.6,221 479.2,220.7 479.3,220.1 481.1,219.6 482.3,218.1 483.7,218.1 484.6,217.7 486.2,217.9 488.8,219.2 490.6,219.5 493.6,221.8 495.2,221.9 495.9,224.1 495.7,227.4 495.5,229.3 496.5,229.7 495.8,231.1 496.9,233.2 497.4,234.8 499.2,235.3 499.6,236.9 498,239.3 499.3,240.7 500.5,242.3 502.8,243.4 503.2,245.7 504.3,246.1 504.7,247.3 501.6,248.7Z"/>
<path fill="#f7fcf5" d="M470.7,239.1 469.3,238.9 467.8,238.7 466.5,241.2 464.4,241.1 462.4,241 458.9,238.4 455.5,235.8 452,233.9 449.3,233.2 448,230 450.2,228.7 452.5,227.3 452.8,224.2 452.4,222.3 453.5,221.6 454.3,220 455.2,219.6 457.7,219.9 458.6,220.6 459.6,220.1 461.5,223.3 463,224 463.4,225.6 462.5,226.5 462.3,228.5 464.2,231 467,232.4 468.5,234.4 468.4,236.3 469.1,236.3 469.3,237.7Z"/>
<path fill="#f7fcf5" d="M469.3,238.9 470,240.1 469.8,240.7 470.8,242.7 469.2,242.7 468.5,241.5 466.5,241.2 467.8,238.7Z"/>
<path fill="#f7fcf5" d="M470.8,242.7 471.9,244.9 473.1,245.5 473.6,246.4 475.2,247.5 475.5,248.6 475.3,249.5 475.7,250.4 476.4,251.1 477.2,252.6 477.9,253.1 478.5,252.9 479.1,253.9 480.3,257.2 482.6,257.6 484.9,258 487.2,258.5 487.6,257.9 488.8,259.8 488.3,262.4 487.7,265 484.4,266.3 481.1,267.6 477.9,268.1 474.7,268.6 472.6,269.8 471.2,272.5 470.1,273 469.5,272.1 468.7,272.3 466.4,272 466,271.7 463.4,271.8 462.8,272 461.8,271.3 461.3,272.6 461.6,273.7 460.6,274.6 460.3,273.5 459.5,272.7 459.3,271.6 458,270.7 456.7,268.5 455.9,266.4 454.3,264.6 453.2,264.1 451.6,261.6 451.2,259.8 451.2,258.3 449.7,255.4 448.6,254.4 447.3,253.8 446.5,252.3 446.6,251.7 445.9,250.4 445.2,249.8 444.1,247.8 442.6,245.7 441.3,244 440.2,244 440.4,242.5 440.5,241.6 440.6,240.6 443.2,241 444,240.2 444.5,239.2 446.1,238.9 446.4,238 447.1,237.5 444.6,234.9 446.7,234.3 448.9,233.6 449.3,233.2 452,233.9 455.5,235.8 458.9,238.4 462.4,241 464.4,241.1 466.5,241.2 468.5,241.5 469.2,242.7Z"/>
<path fill="#f7fcf5" d="M477.2,252.6 476.9,250.7 477.3,249.3 477.9,249 478.7,249.9 478.9,251.4 478.5,252.9 477.9,253.1Z"/>
<path fill="#f7fcf5" d="M479.1,253.9 479.5,253.8 481.3,254.1 483.2,254.2 484.6,254.2 485.9,252.5 487.4,250.8 488.7,249.2 489.2,250.1 489.7,252.2 488.6,252.2 488.6,253.9 489,254.2 488,254.7 488.1,255.8 487.6,256.9 487.6,257.9 487.2,258.5 484.9,258 482.6,257.6 480.3,257.2Z"/>
<path fill="#f7fcf5" d="M488.7,249.2 489.2,248.3 489.5,248.5 489.4,249.6 489.2,250.1Z"/>
<path fill="#f7fcf5" d="M489.7,252.2 490.9,253.9 492.3,254.9 494,255.2 495.3,255.7 496.5,257.2 497.2,258.1 498,258.4 498.1,259 497.4,260.5 497.1,261.3 496.2,262.1 495.6,263.9 494.5,263.8 494.1,264.4 493.9,265.7 494.3,267.5 494.1,267.8 493,267.8 491.7,268.8 491.6,270 491.1,270.6 489.7,270.6 488.9,271.2 488.9,272.3 487.9,273 486.6,272.8 485.2,273.6 484.1,273.8 483.2,271.9 482.2,269.8 481.1,267.6 484.4,266.3 487.7,265 488.3,262.4 488.8,259.8 487.6,257.9 487.6,256.9 488.1,255.8 488,254.7 489,254.2 488.6,253.9 488.6,252.2Z"/>
<path fill="#f7fcf5" d="M440.5,240.2 440,241.2 439.7,243.2 439.2,244.6 438.7,245 437.9,244.2 436.8,243 434.9,239.3 434.7,239.5 435.8,242.3 437.4,244.9 438.4,246.9 439.4,249 440.3,250.4 441.2,251.9 443.4,254.7 442.9,255.2 443.1,256.9 445.9,259.3 446.3,259.8 443.3,259.8 440.3,259.8 437.3,259.8 434.4,259.8 431.5,259.8 428.6,259.8 425.6,259.8 422.5,259.8 419.5,259.8 419.4,256.6 419.2,253.4 419.1,250.2 418.9,247.1 418.7,244 418.5,240.9 417.7,238.8 418.2,237.2 417.8,236 418.5,234.8 421.4,234.7 423.6,235.4 425.9,236.2 426.9,236.6 428.5,235.8 429.4,235 431.3,234.8 432.9,235.1 433.6,236.4 434.1,235.6 435.9,236.2 437.6,236.3 438.7,235.7 439.6,237.9Z"/>
<path fill="#f7fcf5" d="M436.4,387.2 435.8,389.1 435.3,391.3 434.6,392.5 433,393.8 432.6,394.2 431.5,395.5 430.8,396.8 429.4,398.7 426.7,401.4 425,403 423.2,404.2 420.8,405.2 419.7,405.3 419.4,406 418.1,405.7 416.9,406.2 414.6,405.6 413.3,406 412.4,405.8 410,406.9 408.1,407.3 406.7,408.3 405.7,408.3 404.9,407.4 404.1,407.3 403.3,406.2 403.1,406.5 402.9,405.8 403,404.3 402.4,402.5 403.1,402.1 403.2,400.1 401.9,397.6 400.8,395.4 399.4,392 400.5,390.7 401.4,391.4 401.7,392.5 402.7,392.7 404,393.2 405.2,393 407.3,391.7 407.5,388.5 407.6,385.3 407.7,382 408.3,382.4 409.5,384.9 409.3,386.5 409.7,387.4 411.3,387.2 412.5,386 413.6,385.2 414.2,384 415.3,383.4 416.3,383.7 417.3,384.4 419.1,384.5 420.6,383.9 420.9,383.1 421.3,381.9 422.6,381.7 423.3,380.7 424.1,378.9 426.2,377 429.5,375 430.4,375.1 431.5,375.5 432.3,375.2 433.5,375.5 434.3,379.1 434.8,381 434.3,383.9 434.4,384.8 433.3,384.4 432.6,384.6 432.4,385.3 431.7,386.3 431.7,387.2 432.9,388.6 434.2,388.3 434.8,387.2ZM427.4,393 426.5,392.2 425.4,392.7 424.2,393.7 422.9,395.4 424.4,397.4 425.2,397.2 425.7,396.3 426.9,395.9 427.4,395 428.2,393.8Z"/>
<path fill="#f7fcf5" d="M333.7,245 334.9,244 336.9,243.7 338.8,241.9 339.9,241.2 341.8,239.1 341.3,235.8 342.2,233.5 342.6,232.2 344,230.4 346.3,229.2 347.9,228.1 349.4,225.4 350.1,223.8 351.7,223.8 353,224.9 355.1,224.8 357.3,225.3 358.3,225.4 359.1,227 359.2,228.6 359.9,231.4 360.5,232 360.1,233 357.2,233.4 356.2,234.4 355,234.6 354.8,236.5 352.2,237.6 351.4,238.9 349.6,239.6 347.3,240 345.5,240.9 343.7,241.9 343.6,245 340.3,245 337,245Z"/>
<path fill="#f7fcf5" d="M358.3,225.4 360.4,224 362.7,223.5 364.1,222.4 366.2,221.6 368,221.4 369.8,221.2 371.6,221 373.4,220.9 374.5,221.3 376.5,220.3 378.8,220.3 379.7,220.9 381.2,220.7 380.8,222.1 381.2,224.6 380.7,226.7 379.4,228.2 379.7,230.1 381.5,231.7 381.6,232.3 382.9,233.4 383.5,235.7 384,238.1 384.8,240.4 384.9,241.6 384.6,243.7 384.8,244.9 384.5,246.4 384.8,248 383.9,249.1 385.2,251 385.4,252.1 386.2,253.6 387.2,253.1 390,255.9 387.5,257.6 384.9,259.3 382.4,260.9 379.1,263.5 375.9,266.1 372.7,267.2 370.2,267.5 370.1,265.8 369.1,265.4 367.7,264.7 367.1,263.4 364.6,261.5 362,259.6 359.5,257.7 357,255.8 354.5,253.9 351.9,252 349.2,249.9 346.4,247.8 343.6,245.7 343.6,245 343.7,241.9 345.5,240.9 347.3,240 349.6,239.6 351.4,238.9 352.2,237.6 354.8,236.5 355,234.6 356.2,234.4 357.2,233.4 360.1,233 360.5,232 359.9,231.4 359.2,228.6 359.1,227Z"/>
<path fill="#f7fcf5" d="M438.7,235.7 439.2,234.8 439,234.7 439.5,233.5 439.7,231.5 440,230.8 440.8,230.8 440.9,230.4 441.5,230.3 441.7,231.4 441.5,231.8 441.2,232.6 441.3,234.2 441.1,235 441.2,236 440.9,238.1 440.5,240.2 439.6,237.9Z"/>
<path fill="#e5f5e0" d="M441.4,223.7 440.5,222.5 441.2,221.5 439.9,221.7 438,221.1 436.7,222.6 435.1,222.8 433.4,222.9 431.5,221.5 429.2,221.4 428.8,222.5 427.3,222.8 425.1,221.4 422.7,221.5 421.2,218.9 419.5,217.4 420.3,215.4 418.8,214.2 420.9,211.7 422.6,211.6 424.2,211.6 424.8,209.6 426.9,209.8 428.9,210 431.2,208.3 433.6,207.5 435.3,207.5 437,207.5 439,208.4 441,209.3 444.2,210.3 446.6,209.9 448.5,210.2 450.7,208.8 453,208.7 455.2,210 455.7,210.9 455.8,212.1 457.5,212.8 458.5,213.5 457.1,214.3 458.3,217.3 458,218.1 459.6,220.1 458.6,220.6 457.7,219.9 455.2,219.6 454.3,220 451.9,220.4 450.7,220.4 448.4,221.3 446.6,221.3 445.4,220.9 443.1,221.6 442.4,221.1 442.4,222.5 441.9,223.1Z"/>
<path fill="#c7e9c0" d="M441.1,194.5 439.5,194.7 438.3,195.5 436.4,195.6 434.8,196.6 435.2,198.2 436.3,198.8 438.4,198.7 438.1,199.6 436,200 433.4,201.5 432.2,201 432.4,199.8 430,199 430.3,198.5 432.2,197.7 431.5,197.1 429.8,196.8 428.2,196.4 427.9,195.5 426,195.8 425.5,197.2 424.1,199.1 423.2,198.7 422.2,199.1 421.2,198.6 421.7,198.3 422,197.4 422.4,196.6 422.2,196.2 422.6,196 422.9,196.3 424.1,196.4 424.6,196.2 424.2,195.9 424.3,195.6 423.4,194.9 423,193.8 422.2,193.4 422.2,192.6 421.2,191.9 420.3,191.8 418.7,191 417.4,191.2 417,191.6 416.2,192.2 414.2,192.5 413.6,192.8 412.6,192.2 411.3,192.2 410,191.9 409.2,192.5 408.9,191.8 407.7,191.1 408,190.1 408.5,189.4 409,189.6 408.3,188.4 409.9,186.3 410.8,186 410.9,185.3 409.6,183.1 410.6,183 411.5,182.3 413.1,182.3 415.1,182.5 417.4,183.1 419,183.2 419.8,183.5 420.4,183.1 421,183.7 422.8,183.5 423.7,183.8 423.6,182.5 424.1,182 425.7,181.8 426.5,181.9 426.9,181.3 427.5,181.5 429.5,181.2 431,182.7 430.6,183.2 431,183.9 432.6,184.1 433.5,185.2 433.6,185.6 436.3,186.5 437.7,186.1 439.2,187.3 440.4,187.3 443.5,188.1 443.7,188.9 443.2,190.2 443.9,191.6 443.8,192.4 441.8,192.6 440.9,193.3Z"/>
<path fill="#c7e9c0" d="M424.1,199.1 424.3,199.8 423.4,200.3 422.7,200.1 422.6,203.2 421.3,202.9 419.7,202 417.3,202.6 416.3,203.2 413.3,203.1 411.6,202.7 410.8,202.9 410.1,201.8 409.7,201.4 409,201.2 407.7,200.5 407.4,199.4 406.1,198.8 405.8,198 404.6,197 406.1,196.5 407.2,194.8 408,193 409.2,192.5 410,191.9 411.3,192.2 412.6,192.2 413.6,192.8 414.2,192.5 416.2,192.2 417,191.6 417.6,191.9 418.4,192.6 419.2,193.7 420.6,195.2 420.8,196.3 420.7,197.4 421.2,198.6 422.2,199.1 423.2,198.7Z"/>
<path fill="#a1d99b" d="M422.6,203.2 421.6,204.3 421.1,206.1 422,207.6 420.1,207.2 418.6,208.3 418.2,209.3 416.3,209.6 414.7,208.7 413.1,209.4 411.5,209.3 411.2,207.6 410,206.8 410.4,206.4 410.1,206.1 410.4,205.3 411.1,204.5 409.9,203.4 409.7,202.4 410.1,201.8 410.8,202.9 411.6,202.7 413.3,203.1 416.3,203.2 417.3,202.6 419.7,202 421.3,202.9Z"/>
<path fill="#e5f5e0" d="M422,207.6 422.3,208.6 424.3,209.4 424,210.1 421.5,210.2 420.7,211 419.1,212.4 418.2,211.2 418.2,210.7 418.7,210.3 419.1,208.7 418.6,208.3 420.1,207.2Z"/>
<path fill="#c7e9c0" d="M418.2,210.7 416.9,210.6 415.8,210.3 413.3,211 414.9,212.5 413.9,212.9 412.7,212.9 411.4,211.5 411.1,212.1 411.7,213.7 412.9,214.9 412.1,215.5 413.4,216.7 414.6,217.4 414.7,218.9 412.7,218.2 413.4,219.5 412.1,219.8 413.1,222.1 411.7,222.1 409.8,221 408.8,218.9 408.3,217.2 407.4,216 406.2,214.5 406,213.8 406.9,212.5 406.9,211.7 407.6,211.3 407.5,210.6 408.9,210.4 409.7,209.8 410.8,209.9 411.1,209.4 411.5,209.3 413.1,209.4 414.7,208.7 416.3,209.6 418.2,209.3 418.6,208.3 419.1,208.7 418.7,210.3Z"/>
<path fill="#c7e9c0" d="M401.7,206.4 399.7,205.4 398.4,204.5 396.4,203.7 394.5,201.8 395,201.6 393.9,200.5 393.8,199.7 392.5,199.3 391.9,200.4 391.2,199.5 391.2,198.6 391.3,198.6 392.7,198.7 393.1,198.2 393.8,198.7 394.6,198.7 394.6,198 395.3,197.7 395.4,196.7 397,196 397.6,196.3 399.3,197.4 401,197.9 401.8,197.5 402.3,198.5 403.1,199.2 402.4,200.2 401.4,199.7 399.9,199.7 398.1,199.3 397.2,199.3 396.8,199.9 396,199.3 395.6,200.3 396.7,201.5 397.3,202.3 398.3,203.3 399.1,203.9 400,204.9 401.9,205.9Z"/>
<path fill="#74c476" d="M391.3,198.6 391.7,198.3 391.2,197.2 391.3,196 393,196.2 394,195.6 395.8,195.6 396.1,195.1 396.5,195.1 397,196 395.4,196.7 395.3,197.7 394.6,198 394.6,198.7 393.8,198.7 393.1,198.2 392.7,198.7Z"/>
<path fill="#c7e9c0" d="M391.7,198.3 390.1,198 388.5,198.9 388.6,200.1 388.4,200.9 389.2,202.2 391.2,203.5 392.4,205.6 394.9,207.7 396.6,207.7 397.1,208.3 396.5,208.8 398.5,209.7 400.1,210.5 402,211.8 402.3,212.3 402,213.3 400.7,212.1 398.8,211.6 398,213.3 399.6,214.3 399.5,215.6 398.6,215.8 397.6,218 396.7,218.2 396.7,217.4 397,216 397.5,215.5 396.5,214 395.8,212.7 394.9,212.3 394.2,211.2 392.8,210.7 391.8,209.7 390.3,209.5 388.5,208.4 386.5,206.7 385,205.2 384.2,202.6 383.2,202.3 381.5,201.5 380.5,201.8 379.4,203 378.5,203.2 378.7,202.1 377.6,201.8 377,199.8 377.7,199 377,198 377.4,197.6 378,197.9 379,197.8 380.1,196.9 380.5,197.3 381.4,197.2 381.8,196.2 383.4,196.5 384.2,196.1 384.4,195 385.6,195.4 385.8,194.9 387.8,194.4 388.3,195.3 391.3,196 391.2,197.2Z"/>
<path fill="#41ab5d" d="M378.5,203.2 376.7,204.7 374.6,204.3 372.5,204 369.5,204.8 369.3,206.4 366.8,206.7 364.5,205.5 363.7,206.1 361.8,205.5 359.9,204.9 359,203.9 360.1,202.4 360.3,199.8 360.6,197.3 358.4,194.6 357,193.3 355.4,192.8 353.9,192.3 353.7,190.5 356.3,189.9 358,190.2 359.7,190.6 359.1,187.7 361,188.8 363.4,187.8 365.7,186.8 366.3,184.7 368,184.2 368.3,185.1 369.2,185.1 370.2,186.1 371.6,187.3 372.6,187.1 374.4,188.3 374.9,188.5 375.5,188.5 376.4,189.1 379.3,189.6 378.4,191.3 378.5,193.2 377.7,193.6 376.7,193.4 376.8,194 375.4,195.4 375.4,196.6 376.3,196.2 377.1,197.3 377.4,197.6 377,198 377.7,199 377,199.8 377.6,201.8 378.7,202.1Z"/>
<path fill="#a1d99b" d="M369.3,206.4 369.4,207.9 367.4,209.6 364.7,210.2 364.5,211 363.2,212.5 362.4,214.6 363.2,216.1 362,217.2 361.5,218.9 359.9,219.4 358.4,221.5 356,221.4 353.6,221.4 352.2,222.4 351.3,223.3 350.3,223.1 349.5,222.2 348.9,220.7 346.9,220.3 346.8,219.5 347.6,218.5 347.9,217.8 347.2,217 347.8,215.3 347,213.7 347.9,213.5 348.1,212.3 348.4,211.9 348.5,209.9 349.5,209.2 348.9,207.9 347.7,207.8 347.4,208.1 346.1,208.1 345.6,206.9 344.8,207.3 344,207.9 344.2,206.1 343.3,204.9 346.4,203.1 348.9,203.5 351.7,203.5 353.9,204 355.6,203.8 357.3,203.9 359,203.9 359.9,204.9 361.8,205.5 363.7,206.1 364.5,205.5 366.8,206.7Z"/>
<path fill="#a1d99b" d="M346.9,220.3 346,221 344.9,220.6 343.8,220.9 344.2,218.9 344,217.3 343.1,217 342.6,216.1 342.8,214.4 343.7,213.4 343.9,212.4 344.4,210.8 344.4,209.7 344,208.8 344,207.9 344.8,207.3 345.6,206.9 346.1,208.1 347.4,208.1 347.7,207.8 348.9,207.9 349.5,209.2 348.5,209.9 348.4,211.9 348.1,212.3 347.9,213.5 347,213.7 347.8,215.3 347.2,217 347.9,217.8 347.6,218.5 346.8,219.5Z"/>
<path fill="#c7e9c0" d="M368,184.2 369.6,183.7 371,183.9 372.9,183.4 374.2,184.5 375.3,185.1 375.1,186.8 374.6,186.9 374.4,188.3 372.6,187.1 371.6,187.3 370.2,186.1 369.2,185.1 368.3,185.1Z"/>
<path fill="#e5f5e0" d="M369.6,183.7 370.6,183 372.2,179.3 374.8,178.3 376.5,178.4 376.9,179.2 376.5,181.5 376,182.4 374.8,182.4 375.3,185.1 374.2,184.5 372.9,183.4 371,183.9Z"/>
<path fill="#c7e9c0" d="M376.5,178.4 376.8,177.9 378.5,177.7 378.8,178.3 380.1,177 379.6,176.1 379.5,174.7 380.9,175 382.1,174.7 382.2,175.6 384.2,176.2 384.3,177.1 386.2,176.6 387.2,175.9 389.5,176.9 390.5,177.7 391.1,179 390.6,179.6 391.4,180.5 392,181.8 391.9,182.7 392.6,184.7 391.4,184.3 391,184.8 389.6,185.3 388.9,185.9 387.5,186.4 387.9,187.2 388.2,188.2 389.2,188.9 390.5,189.9 391,190.2 389.8,191.1 389.1,191.4 389.5,193.1 389.4,193.5 388.7,193 387.7,193 386.3,193.4 384.5,193.3 384.2,194 383.2,193.3 382.5,193.4 380.3,192.6 379.9,193.2 378.5,193.2 378.4,191.3 379.3,189.6 376.4,189.1 375.5,188.5 375.5,187.4 375.1,186.8 375.3,185.1 374.8,182.4 376,182.4 376.5,181.5 376.9,179.2Z"/>
<path fill="#74c476" d="M379.5,174.7 378.6,173.3 378.4,170.8 378.7,170.2 379.2,169.4 380.8,169.3 381.5,168.6 382.9,167.9 383,169.2 382.4,170 382.7,170.6 383.8,171 383.4,171.9 382.8,171.7 381.5,173.4 382.1,174.7 380.9,175Z"/>
<path fill="#e5f5e0" d="M390.5,177.7 391.8,177 393.2,176.4 394.7,175.8 397,175 399,175.4 399.2,176 401.1,176 403.5,176.3 405.3,176.3 407.1,176.3 408.1,176.5 408.7,177.3 408.9,178.4 409.6,179.3 409.8,180.3 408.6,180.8 409.4,182 409.6,183.1 410.9,185.3 410.8,186 409.9,186.3 408.3,188.4 409,189.6 408.5,189.4 406.5,188.4 405.1,188.8 404.1,188.5 403,189.1 401.8,188.2 401,188.5 400.9,188.4 399.9,187.1 398.4,187 398.1,186.2 396.7,185.9 396.5,186.5 395.3,186 395.4,185.3 393.9,185.1 392.9,184.3 392.6,184.7 391.9,182.7 392,181.8 391.4,180.5 390.6,179.6 391.1,179Z"/>
<path fill="#e5f5e0" d="M401.1,176 401.4,174.9 403.9,174.1 406,174.6 406.9,175 406.8,175.6 407.1,176.3 405.3,176.3 403.5,176.3Z"/>
<path fill="#c7e9c0" d="M403.9,174.1 403.3,172.1 405.3,171.3 406.9,171.4 408.6,171.5 410.4,171.2 410.7,171.8 411.8,171.9 413.8,173.1 414.2,174.2 412.7,175 412.5,176.4 410.6,177.3 408.7,177.3 408.1,176.5 407.1,176.3 406.8,175.6 406.9,175 406,174.6Z"/>
<path fill="#c7e9c0" d="M403.3,172.1 403.1,170.2 403.8,168.7 405.4,167.9 407.2,169.7 408.7,169.6 408.8,167.8 410.3,167.3 411.2,167.6 412.8,168.1 414.5,168.6 415.2,167.8 415.7,169.1 415.7,170.3 416.8,171.7 414.9,172.7 413.8,173.1 411.8,171.9 410.7,171.8 410.4,171.2 408.6,171.5 406.9,171.4 405.3,171.3Z"/>
<path fill="#e5f5e0" d="M408.8,167.8 408.7,166.3 406.8,165.8 406.4,164.4 408.6,163.7 410.9,163.4 413,163.8 414.9,163.7 415.2,164.1 414.2,165.5 415.2,167.8 414.5,168.6 412.8,168.1 411.2,167.6 410.3,167.3Z"/>
<path fill="#238b45" d="M414.5,161.2 412.9,161.3 411.2,161.4 409.7,161.9 408.2,162.3 406.7,162.5 405.2,162.8 404,161.5 402,160.7 402.1,158.4 400.9,156.3 401.5,154.9 402.9,153.4 404.7,152.2 406.4,150.9 407.5,150.4 407.1,149.5 404.5,148.4 403.7,147.5 403.4,145.8 403,144 401.5,143.3 400.1,142.5 397.6,141.4 398.5,140.9 400.6,142 402.8,141.9 404.7,142.5 406.1,141.5 406.5,139.9 407.7,139.5 408.9,139.1 411.3,140 411,141.6 411.1,143.1 412.6,143.8 414.1,144.6 412.9,146.3 415.6,148.8 414.8,150.8 416.8,152.5 416.5,154.1 419.5,155.6 419.1,156.8 417.8,158.2 416.2,159.7Z"/>
<path fill="#005a32" d="M404.5,148.4 403,148.7 401.6,149.1 400.2,150.6 400.7,152.1 399.5,153 398.2,153.9 396.6,154.9 395,155.9 394.2,159.3 395.7,160.9 397.6,162.2 396.3,165 394.4,165.5 394.3,167.6 394.2,169.6 393.3,171.9 391,171.7 390.1,173.6 387.9,173.7 387.1,171.4 385.3,168.6 383.6,165.2 384.3,163.8 385.7,162.2 386,159.4 384.7,158.2 384.3,155 385.3,152.8 387,152.9 387.6,152 386.8,151.2 388,149.6 389.2,148 390.6,145.5 391.5,143.9 393.1,143.9 393.3,142.6 395,142.8 396.6,143 396.6,141.5 397.6,141.4 400.1,142.5 401.5,143.3 403,144 403.4,145.8 403.7,147.5Z"/>
<path fill="#005a32" d="M383.6,165.2 382.2,163.7 380.5,165.1 378.7,166.5 376.2,167.1 373.6,165.8 372.8,163.3 372.4,160.5 372,157.8 373.6,156.3 375.9,155.3 378.2,154.3 379.9,153.1 381.6,151.9 383,150.3 384.5,148.7 386.3,146.5 388.1,144.3 389.4,143.5 390.7,142.7 392.8,141.3 394.9,139.9 396.6,139.4 398.4,138.9 399.7,139 401.1,139 402.2,138.1 403.2,137.3 404.7,137.3 406.2,137.3 407.6,137.1 409.1,136.9 410.9,137.4 412.8,138 414.6,138.5 412.7,139.1 414.9,140.4 413.6,140.9 412.3,141.3 411,141.6 411.3,140 408.9,139.1 407.7,139.5 406.5,139.9 406.1,141.5 404.7,142.5 402.8,141.9 400.6,142 398.5,140.9 397.6,141.4 396.6,141.5 396.6,143 395,142.8 393.3,142.6 393.1,143.9 391.5,143.9 390.6,145.5 389.2,148 388,149.6 386.8,151.2 387.6,152 387,152.9 385.3,152.8 384.3,155 384.7,158.2 386,159.4 385.7,162.2 384.3,163.8Z"/>
<path fill="#f7fcf5" d="M473.7,208.2 473.7,206.5 473.1,205.6 470.4,204.7 468.9,202.4 467.6,201.7 467.4,200.9 469.4,201.1 469,199.2 470.7,198.8 472.6,199.2 472.3,196.7 471.5,195.1 469.5,195.2 467.6,194.6 465.5,195.7 463.7,196.3 462.6,195.9 462.5,194.5 460.8,192.8 459.3,192.9 457.1,191.2 457.8,189.3 457.1,188.7 458,186 460.4,187.4 460.2,185.6 461.8,184.2 463.5,182.9 465,182.8 466.6,182.8 469,183.6 471.5,184.5 474.2,185.5 475.9,184.5 477.5,184.5 479.1,184.4 482.1,185.7 482.4,185 485.2,185.1 485.3,183.9 483.4,183 481.5,182.2 482.9,180.9 482.3,180.3 483.9,179.6 481.9,177.9 482.4,177.1 484.7,176.8 487.1,176.5 489.4,176.2 490,175.6 492.3,175.1 494.5,174.7 495.7,173.6 497.6,173.9 499.4,174.2 501.2,176.8 503,176.1 505.9,177 506.3,178.4 508.1,178.2 510,177 511.9,175.9 511.6,176.6 515,178.6 518.7,181.7 522.4,184.9 522.9,183.6 526.3,185.1 528.8,184.4 530.1,184.9 531.8,186.3 533.4,186.8 534.8,187.9 537.2,187.5 539,189.1 538.3,190.8 536.7,191 537.7,193.6 537.1,194.7 534.9,194.3 532.7,193.9 532.9,196.2 533.1,198.5 532.3,199 530.4,199.6 528.6,200.1 530.4,202.3 532.2,204.5 531,205.2 531.7,206.7 530.2,206.3 528.9,205.4 525.7,205.1 523.9,205.1 522.2,205 521.5,205.3 518.1,204.2 517.1,204.8 517.3,206.3 515.4,205.9 513.6,205.4 512.3,205.8 512.2,206.9 511.2,207.4 508.9,209.2 508.5,211 507.8,211.1 506.8,209.8 504.1,209.7 503.1,207.6 502,207.6 501.4,205 498.3,203.1 496.6,203.2 494.8,203.3 492.5,203.7 489.8,201.4 487.8,200.4 486,199.5 484.1,198.6 483.6,198.3 481.2,199.1 478.7,199.9 479.6,203 480.5,206.2 481.3,209.4 480.3,209.5 478.3,207.5 476.7,206.8 474.4,207.3Z"/>
<path fill="#f7fcf5" d="M479.3,220.1 478.5,218.2 478.2,215.5 476.4,214.6 476.6,212.8 478,212.9 478.9,210.3 477.2,211.1 475.1,210.5 474.7,209.8 473.7,208.2 474.4,207.3 476.7,206.8 478.3,207.5 480.3,209.5 481.3,209.4 483.7,209.4 483,208 484.6,207.2 485.9,205.7 489.2,207 489.9,209.1 490.9,209.6 493.1,209.5 494,210 495.7,212.7 498.6,214.4 500.3,215.7 502.9,216.9 506,218.1 506.3,219.7 505.7,219.6 504.5,218.9 504.4,219.8 502.7,220.3 502.7,222.4 501.7,223.2 500.1,223.6 499.9,224.8 498.3,225.1 495.9,224.1 495.2,221.9 493.6,221.8 490.6,219.5 488.8,219.2 486.2,217.9 484.6,217.7 483.7,218.1 482.3,218.1 481.1,219.6Z"/>
<path fill="#f7fcf5" d="M465.4,208.1 466.8,209.5 468.3,211.3 469.3,211.4 470.1,212.1 468.4,212.3 468.4,214.3 468.2,215.3 467.6,215.9 467.9,217.2 467.4,217.3 465.8,215.9 466.3,214.6 465.5,213.9 464.7,214.1 462.6,216 462.2,214.2 461.1,213.7 460.1,213 460.5,212.2 459.3,211.3 459.6,210.7 458.7,210.2 458.1,209.5 458.5,209.1 460.2,209.9 461.4,210 461.6,209.7 460.3,208.3 460.8,208 461.4,208 463.2,209.6 464.2,209.8 464.4,209.1Z"/>
<path fill="#e5f5e0" d="M413.8,173.1 414.9,172.7 416.8,171.7 418.9,172.3 419.3,173 420.3,172.7 422.2,173.2 422.7,174.4 422.4,175.1 423.9,176.7 424.8,177.2 424.8,177.6 426.2,178 426.9,178.7 426.2,179.2 424.6,179.1 424.3,179.4 424.9,180.2 425.7,181.8 424.1,182 423.6,182.5 423.7,183.8 422.8,183.5 421,183.7 420.4,183.1 419.8,183.5 419,183.2 417.4,183.1 415.1,182.5 413.1,182.3 411.5,182.3 410.6,183 409.6,183.1 409.4,182 408.6,180.8 409.8,180.3 409.6,179.3 408.9,178.4 408.7,177.3 410.6,177.3 412.5,176.4 412.7,175 414.2,174.2Z"/>
<path fill="#a1d99b" d="M400.9,188.4 401,188.5 401.8,188.2 403,189.1 404.1,188.5 405.1,188.8 406.5,188.4 408.5,189.4 408,190.1 407.7,191.1 407.3,191.4 405.1,190.6 404.4,190.8 404,191.3 403.1,191.7 402.9,191.5 401.9,191.9 401.1,192 401,192.5 399.3,192.8 397.9,192.2 397.5,191.9 397.2,191 397.3,190.7 397.5,190.1 398.5,190.1 399.1,189.6 399.5,189.5 399.6,189 400,188.8 400.3,188.4Z"/>
<path fill="#c7e9c0" d="M392.6,184.7 392.9,184.3 393.9,185.1 395.4,185.3 395.3,186 396.5,186.5 396.7,185.9 398.1,186.2 398.4,187 399.9,187.1 400.9,188.4 400.3,188.4 400,188.8 399.6,189 399.5,189.5 399.1,189.6 398.5,190.1 397.5,190.1 397.3,190.7 396.3,190.2 395.4,190.3 393.8,189.5 393.1,189.7 392,190.8 391,190.2 390.5,189.9 389.2,188.9 388.2,188.2 387.9,187.2 387.5,186.4 388.9,185.9 389.6,185.3 391,184.8 391.4,184.3Z"/>
<path fill="#74c476" d="M391,190.2 392,190.8 393.1,189.7 393.8,189.5 395.4,190.3 396.3,190.2 397.3,190.7 397.2,191 397.5,191.9 397.9,192.2 397.4,192.9 396.2,192.9 396.7,193.5 396.1,195.1 395.8,195.6 394,195.6 393,196.2 391.3,196 388.3,195.3 387.8,194.4 385.8,194.9 385.6,195.4 384.4,195 383.3,194.9 382.4,194.5 382.6,193.8 382.5,193.4 383.2,193.3 384.2,194 384.5,193.3 386.3,193.4 387.7,193 388.7,193 389.4,193.5 389.5,193.1 389.1,191.4 389.8,191.1Z"/>
<path fill="#c7e9c0" d="M397.9,192.2 399.3,192.8 401,192.5 401.1,192 401.9,191.9 402.9,191.5 403.1,191.7 404,191.3 404.4,190.8 405.1,190.6 407.3,191.4 407.7,191.1 408.9,191.8 409.2,192.5 408,193 407.2,194.8 406.1,196.5 404.6,197 403.3,196.9 401.8,197.5 401,197.9 399.3,197.4 397.6,196.3 397,196 396.5,195.1 396.1,195.1 396.7,193.5 396.2,192.9 397.4,192.9Z"/>
<path fill="#41ab5d" d="M382.5,193.4 382.6,193.8 382.4,194.5 383.3,194.9 384.4,195 384.2,196.1 383.4,196.5 381.8,196.2 381.4,197.2 380.5,197.3 380.1,196.9 379,197.8 378,197.9 377.4,197.6 377.1,197.3 376.3,196.2 375.4,196.6 375.4,195.4 376.8,194 376.7,193.4 377.7,193.6 378.5,193.2 379.9,193.2 380.3,192.6Z"/>
<path fill="#e5f5e0" d="M375.1,186.8 375.5,187.4 375.5,188.5 374.9,188.5 374.4,188.3 374.6,186.9Z"/>
<path fill="#e5f5e0" d="M407.5,210.6 406.6,210 406.2,208.8 406.4,208 407.9,207.1 408.4,207 409.1,206.8 410,206.8 411.2,207.6 411.5,209.3 411.1,209.4 410.8,209.9 409.7,209.8 408.9,210.4Z"/>
<path fill="#f7fcf5" d="M509.3,220.2 507.5,219.7 506.3,219.7 506,218.1 502.9,216.9 500.3,215.7 498.6,214.4 495.7,212.7 494,210 493.1,209.5 490.9,209.6 489.9,209.1 489.2,207 485.9,205.7 484.6,207.2 483,208 483.7,209.4 481.3,209.4 480.5,206.2 479.6,203 478.7,199.9 481.2,199.1 483.6,198.3 484.1,198.6 486,199.5 487.8,200.4 489.8,201.4 492.5,203.7 494.8,203.3 496.6,203.2 498.3,203.1 501.4,205 502,207.6 503.1,207.6 504.1,209.7 506.8,209.8 507.8,211.1 508.5,211 508.9,209.2 511.2,207.4 512.2,206.9 512.9,207.2 511.7,208.8 513.5,209.8 514.8,209.2 517.8,210.5 515.6,212.4 513.9,212.2 513.1,212.2 512.6,211.5 512.6,210.3 510,210.9 509.8,212.5 509.2,214 507.4,213.9 507.1,215 508.9,215.6 509.8,217.6Z"/>
<path fill="#c7e9c0" d="M350.9,177.4 351.2,179.2 349.6,181.4 347.8,182.2 346.1,182.9 343.3,182.5 345,179.9 344.1,177.4 346.9,175.4 348.4,174.3 348.7,175.6 348.3,176.9 349.5,176.9Z"/>
<path fill="#c7e9c0" d="M348.4,174.3 350,174.2 352,175.7 350.9,177.4 349.5,176.9 348.3,176.9 348.7,175.6Z"/>
<path fill="#e5f5e0" d="M634.9,306.5 633.7,308.9 635.5,311.3 635.1,312.5 637.8,314.9 635,315.3 634.3,317 634.4,319.4 632.1,321.2 632,323.8 631.5,325.8 631,327.8 630.7,326.9 628,328 627.1,326.4 625.5,326.3 624.4,325.5 621.6,326.4 620.8,325.1 619.3,325.3 617.4,325 617.1,321.5 616,320.7 614.9,318.5 614.6,316.2 614.8,313.8 616.2,312 616.6,313.8 618.2,315.3 619.7,314.7 621.1,314.9 622.5,313.6 623.6,313.4 625.8,314.1 627.6,313.6 628.7,309.9 629.6,309 630.3,306 632.9,306Z"/>
<path fill="#f7fcf5" d="M616.2,312 617.9,313 619.7,312.5 620.1,310.2 621,309.7 623.8,309.2 625.3,307.1 626.4,305.5 627.5,306.8 628,305.9 629.1,306 629.1,304.3 629.2,303.1 630.8,301.2 631.9,299.2 632.8,299.2 634.1,300.5 634.2,301.6 635.8,302.4 637.8,303.2 637.6,304.2 636.1,304.3 636.6,305.6 634.9,306.5 632.9,306 630.3,306 629.6,309 628.7,309.9 627.6,313.6 625.8,314.1 623.6,313.4 622.5,313.6 621.1,314.9 619.7,314.7 618.2,315.3 616.6,313.8Z"/>
<path fill="#e5f5e0" d="M664.4,319.8 667.5,319.1 668.7,318.3 670.5,318.8 672.4,319.3 672.7,320.3 673,322.4 673.3,324.5 675.6,326.1 677.6,323.3 680.3,321.7 682.4,321.7 684.3,322.7 686,323.6 688.5,324.1 688.3,326.9 688.2,329.8 688,332.6 687.8,335.5 687.6,338.3 687.4,341.1 685.5,339 683.2,338.5 682.6,339.2 679.7,339.3 680.8,337.2 682.3,336.4 682,333.6 681,331.4 678.8,330.3 676.6,329.2 674.7,329 671.4,326.6 670.7,327.8 669.8,328 669.3,327.1 669.3,326 667.6,324.7 670.2,323.7 671.8,323.8 671.6,323.1 668.2,323.1 667.4,321.5 665.3,321Z"/>
<path fill="#e5f5e0" d="M650.7,341.8 649,343.8 647,344.4 646.7,344.1 647,343.2 648.1,341.6 650.5,340.5 650.7,341.1Z"/>
<path fill="#a1d99b" d="M219.7,132 222.2,131.6 223.8,132.4 225.5,133.2 227.1,132 229.6,131.8 232.1,131.6 232.9,132.6 233.7,133.7 236.2,132 238,132 239.9,132 240.5,133 241.1,134.1 242.2,134.9 243.3,135.7 244.4,136.5 246,137.1 247.7,137.6 249.4,138.2 250.2,139.2 251,140.2 247.7,142.3 249.3,143 251,143.7 252.6,144.4 254,145 255.4,145.7 256.8,146.4 254.7,147.9 252.6,149.3 251,150.5 249.3,149.8 247.7,149.2 246.1,148.5 244.4,150.5 246.1,151.6 247.7,152.6 244.4,155.9 241.9,157.5 240.7,156.3 239.5,155.1 237.5,154.2 235.6,153.4 233.7,152.6 232.5,151.8 231.2,151 228.8,151.6 226.3,152.2 225.1,151.3 227.1,150.1 229,150 231,149.8 232.9,149.7 235.4,147.8 237.8,146 237.8,144 236.2,143.3 234.5,142.7 233.7,140.2 232.5,140 231.2,139.8 228.8,140 226.3,140.2 224.2,140 222.2,139.8 220.5,139.3 218.9,138.7 217.2,138.2 216.3,136.9 217.2,134.5Z"/>
<path fill="#a1d99b" d="M231.2,144.8 233.7,143.5 235.4,144.2 233.3,145.6 232.3,145.2Z"/>
<path fill="#a1d99b" d="M169.4,138.2 171.6,138.5 173.7,138.8 175.2,138.9 176.8,139 173.1,141 170.6,141.2 168.2,141.5 169.9,142 171.6,142.6 173.6,142.6 175.5,142.6 177.5,142.6 180.3,142.2 183.2,141.9 185.1,141.7 186.9,141.5 189.3,141.7 191.6,141.9 194.6,140.4 194,138.4 194.9,138.8 195.8,139.3 197.4,137.3 195.7,137.2 193.9,137 192.1,136.9 193.9,135.2 194.5,133.1 192.5,132.6 189.2,133.5 187.7,135.6 186.7,134.6 185.8,133.7 184.1,133.5 182.5,133.3 180.9,133.1 178.8,133.3 176.7,133.5 174.5,133.7 169.4,136 171.5,136.4 173.6,136.7 171.3,137 168.9,137.3Z"/>
<path fill="#a1d99b" d="M160.6,135.3 161.1,136.9 163.8,136.7 166.5,136.5 170.4,135.2 173.3,134.3 176.1,133.5 179,132.6 178.6,131.6 178.3,130.6 176.5,130.4 174.6,130.2 172.8,129.9 171,130.1 169.1,130.2 167.3,130.4 166.5,131.8 163.3,133.2 160.2,134.5Z"/>
<path fill="#a1d99b" d="M257.8,114.4 259.7,114.4 261.5,114.3 263.4,114.3 265.2,114.3 267.1,114.3 268.9,114.2 270.6,114.4 272.4,114.6 274.1,114.8 275.9,115 277.6,115.2 278.6,115.6 276.2,115.9 273.8,116.3 271.5,116.6 269.1,116.9 270.7,117 272.4,117.1 270.1,117.6 267.8,118.1 265.5,118.6 263.2,119.1 260.8,119.6 258.6,119.9 256.4,120.1 254.3,120.4 252.1,121.1 252.1,122.1 250.2,122.4 248.2,122.8 246.3,123.2 244.1,123.9 242,124.6 243.5,125 245,125.3 242.5,125.9 240.1,126.5 237.8,126.5 235.6,126.4 233.4,126.3 231.2,126.3 229,126.2 226.7,126.1 231.3,124 234.1,123.5 236.8,123 235.4,122.6 234,122.3 236.8,121.4 239.6,120.6 239.5,118.7 240.9,118.9 242.2,119 243.5,119.1 245.1,118.7 246.6,118.4 244.6,118.4 242.6,118.3 240.7,118.3 238.7,118.2 237.7,117.9 236.7,117.6 235.9,117.1 235.1,116.6 237.7,116.2 240.3,115.8 242.8,115.5 244.8,115.2 246.8,115 248.8,114.8 250.8,114.5 252.6,114.5 254.3,114.5 256.1,114.4Z"/>
<path fill="#a1d99b" d="M224.5,119.8 226.4,120.1 228.2,120.4 228.6,121.2 229,122.1 230.8,122.1 232.5,122.1 234.2,122.1 236.3,121.3 238.4,120.6 238.7,118.8 237.4,118.3 236.2,117.8 235,117.2 233.3,117.2 231.7,117.2 230.1,117.2 228,117.7 225.9,118.2Z"/>
<path fill="#a1d99b" d="M238.8,129.1 239,127.7 236.7,127.6 234.5,127.6 232.2,127.5 229.8,127.6 227.4,127.7 225.8,127.1 224.3,126.4 222.8,125.7 221.4,126.1 219.7,125.9 218,125.6 216.2,125.3 214.9,126.9 216,127.5 217.2,128.1 218.4,128.7 219.6,129.3 221.3,129.6 223,129.9 224.7,130.2 226.9,130.2 229.1,130.2 231.3,130.2 233,130.2 234.6,130.2 236.7,129.6Z"/>
<path fill="#a1d99b" d="M200.4,127.9 197.8,128.9 195.9,129 194,129.1 192.1,129.2 189.6,129.7 187.1,130.2 184.8,130.2 183.3,129.6 181.9,129.1 180.6,128.5 184.1,127.2 187.6,125.9 189.2,126.3 190.8,126.7 192.8,126.4 194.8,126.1 196.3,126.3 197.8,126.5 196,127.9 198.2,127.9Z"/>
<path fill="#a1d99b" d="M206.9,128.9 207.5,127.7 207.1,127 206.7,126.3 209,126 211.2,125.7 212.6,126 214,126.3 212.7,127.5 210.4,128.9 208.6,128.9Z"/>
<path fill="#a1d99b" d="M198.2,134.1 200.6,131.8 202.5,132.2 204,132 205.5,131.8 207.3,131.6 209.1,131.4 208.9,132 206.4,133.1 208,133.9 205.9,135.8 204.1,136.2 202.3,136.7 201.4,136.2 200.5,135.8 199.3,135Z"/>
<path fill="#a1d99b" d="M213.7,133.5 211.3,134.2 208.8,135 210.4,132.2 212.5,131 214.2,130.9 215.9,130.8 217.6,130.8 218.9,131 220.2,131.2 216,133.1Z"/>
<path fill="#a1d99b" d="M196.2,140.8 198.3,140.1 200.3,139.3 201.5,139.7 202.1,140.1 202.7,141.5 201,142.1 199.3,141.5 197.8,141.7Z"/>
<path fill="#a1d99b" d="M209.5,153 210.1,153.9 211.9,151.9 213.6,149.8 215.4,149.8 216,150.5 217.4,151.2 219.1,151.9 218.4,153 219.9,152.8 220.6,153.7 218.5,154.4 216.3,153.7 215.8,152.8 213.3,153.9 210,155.1 208.8,154.6 207.6,154.2Z"/>
<path fill="#a1d99b" d="M175,126.7 177.5,125.9 179.9,125.1 181.8,125.1 183.6,125.1 185.5,125.1 187.3,125.1 187.6,125.9 186.3,125.9 185,125.9 181.6,126.8 178.2,127.7 177.4,127.4 176.6,127.1Z"/>
<path fill="#a1d99b" d="M212.7,120.8 214,121.1 215.4,121.5 212.9,121.8 210.4,122 207.9,122.3 210.1,121.7 209.1,121.1 209.8,120.6 211.2,120.7Z"/>
<path fill="#a1d99b" d="M251.1,185.3 252.6,183.8 253.3,183.1 251.1,185.3 249,187.6 250.7,186.7 251.7,187.4 250.9,188.1 252.5,188.9 253.4,188.2 255.2,189 254.1,190.9 255.6,190.4 255.6,191.8 255.8,193.3 254.3,195.6 253.4,195.8 252.1,195.2 253.1,193.2 252.6,192.8 249.7,195 248.5,195 250.3,193.7 248.5,193.2 246.3,193.3 244.3,193.3 242.4,193.2 242.3,192.4 243.8,191.5 243.2,190.9 245.2,189.4 246.9,187.4 248.6,185.3 250.3,183.8 252.3,183Z"/>
<path fill="#a1d99b" d="M113,190.9 111.8,191.2 110.4,190.7 109,190.1 109.1,189.1 107.9,188.4 108.1,187.6 106.3,187.1 107.2,185.1 107.9,185.2 109.7,185.8 111.5,186.3 111.7,187.1 111.8,188.4 113.2,189.4Z"/>
<path fill="#a1d99b" d="M104.5,176.6 105,177.1 107.1,176.8 104.2,179.6 104.3,181.6 103.5,181.6 103.2,180.4 103.4,179.3 103.1,178.6Z"/>
<path fill="#e5f5e0" d="M75.1,167.3 76.1,167.5 76.2,168.2 73.3,169.5 70.4,170.4 70.2,169.7 71,168.6 73.6,167.8Z"/>
<path fill="#e5f5e0" d="M58,153.5 58.5,153.9 59.8,153.7 60.3,154.4 61.8,154.6 61.3,154.9 59.5,155.3 58.6,154.9 58.5,154.4 56.7,154.6 56.6,154.4Z"/>
<path fill="#e5f5e0" d="M57.1,161.5 58.3,161.7 57.3,162.7 55.8,163 55.1,162.6 54.8,162Z"/>
<path fill="#e5f5e0" d="M9.7,267.4 9.2,267.8 8.7,267.5 9,266.7 8.8,265.8 9.5,265.1 9.7,264.3 11,265 11.2,265.4 11.6,266.3 10.5,267Z"/>
<path fill="#e5f5e0" d="M9.4,263.3 8.6,263.5 8.2,262.6 8.4,262.4 9.2,262.6 9.7,263Z"/>
<path fill="#e5f5e0" d="M6.3,261.6 5.8,260.7 5.1,261 5.2,261.6 6.1,261.7Z"/>
<path fill="#e5f5e0" d="M2.9,259.8 1.9,259.6 2,259.8 2.3,260.1 2.6,260.1Z"/>
<path fill="#a1d99b" d="M194.1,123.3 197.8,121.5 199.6,121.4 201.5,121.3 201,122.5 197.4,123.8 195.7,123.5Z"/>
<path fill="#a1d99b" d="M217.7,122.5 219.7,121.3 220.9,121.7 222.2,122.1 221.8,123.6 220.3,123.7 218.9,123.8 218.3,123.1Z"/>
<path fill="#a1d99b" d="M212.7,129.1 214.8,128.1 216,128.3 217.2,128.5 216.6,129.8 215.3,129.9 213.9,130Z"/>
<path fill="#c7e9c0" d="M357.4,165.7 355.3,168.4 357.2,168 359.3,168 358.8,170 357,172.2 359,172.4 360.9,175.5 362.2,175.9 363.4,178.8 363.9,179.7 366.3,180.2 366.1,181.8 365.1,182.5 365.9,183.9 364.1,185.2 361.4,185.2 359.7,185.5 358,185.8 357.1,185.3 355.8,186.5 353.9,186.2 352.5,187.2 351.4,186.7 354.4,184.1 356.2,183.5 354.7,183.3 353.1,183.1 352.6,182.1 354.7,181.3 353.6,180 354.1,178.3 357,178.6 357.3,177.1 356,175.5 353.7,175.1 353.2,174.5 353.9,173.3 353.3,172.7 352.2,173.8 352.2,171.5 351.3,170.2 352.1,167.7 353.6,165.7 355.1,165.9Z"/>
<path fill="#005a32" d="M337.9,147.4 337.4,148.8 339.2,150.4 336.7,152.2 334,153 331.4,153.8 329.8,154.2 327.5,153.8 325,153.5 322.6,153.1 324.6,152.1 322.7,151.5 320.9,151 322.5,150.7 324.1,150.5 324.2,149.8 322.4,149.6 320.6,149.3 322.1,147.8 323.4,147.7 324.8,147.5 326,148.3 327.2,149 328.6,148.4 330,147.8 332.1,148.4 333.6,147.8 335.1,147.2 336.5,147.3Z"/>
<path fill="#005a32" d="M384.8,119.9 385.3,119.2 387.4,119.2 389.3,119.8 391,120.3 392.7,120.7 394.5,121.2 392.7,121.6 391,122 390.5,123.3 389.3,123.7 388.9,125.3 387.1,125.4 385.3,124.8 383.6,124.2 384.9,123.5 382.5,123 381,122.2 379.4,121.4 378.1,119.9 380,119.6 381.9,119.2 382.8,119.9Z"/>
<path fill="#005a32" d="M402.3,119.2 400.5,120.2 398.4,120.3 396.4,120.4 394.2,120.2 392,120.1 391.6,119.6 389.5,119.5 387.8,118.7 389.2,118.6 390.6,118.4 392.1,118.2 394.2,118.6 395.5,118.1 397.4,118.3 399.3,118.6 400.8,118.9Z"/>
<path fill="#005a32" d="M399.8,123.3 398.2,123.7 396.7,124.1 395.3,123.9 393.9,123.6 394.8,123.1 393.8,122.5 395.2,122.4 396.7,122.2 397.5,122.9Z"/>
<path fill="#e5f5e0" d="M446.3,135.2 447.7,134.7 447,133.6 448.1,132.6 449.2,131.8 447.6,131.5 449,130.6 450.3,129.7 449.4,128.8 450.8,128.2 452.2,127.7 453.6,127.3 455,126.8 456.3,126.4 457.9,126.3 459.5,126.2 461.1,126 462.2,125.7 463.2,125.3 464.5,125.2 465.9,125.1 467.6,125.9 467.1,126.5 465.5,126.8 464,127.1 462.4,127.4 461.1,127.8 459.7,128.1 458.4,128.4 457.2,129 456,129.7 454.8,130.3 453.6,132.4 453,133.4 452.3,134.4 453.6,136.2 455.6,137 457.6,137.9 456.8,138.1 454.9,138 453.1,137.9 451.3,137.8 450.3,136.9 448.7,136.6 447.1,136.3Z"/>
<path fill="#e5f5e0" d="M433.7,117.7 436,118.1 434.4,118.4 432.7,118.7 431.3,119.3 429.4,118.8 430,118.3 428.3,118.3 426.6,118.2 428,118.1 429.3,117.9 431.4,117.9 432,118.4 432.6,118Z"/>
<path fill="#e5f5e0" d="M509.2,121.4 507.7,121.5 506.3,121.6 503.9,121.3 501.5,121 499.9,120.7 498.2,120.3 495.5,119 493.1,118.7 494.2,118.1 495.3,117.5 496.6,117.3 497.9,117.2 499.8,117.6 501.7,118 504.5,118.8 507.3,119.7Z"/>
<path fill="#e5f5e0" d="M518.2,122.4 516.3,122.6 514.5,122.8 512.7,123 510.8,123.2 510.5,121.9 510.2,120.7 511.1,120.5 512.4,120.6 515,121.1 517.6,121.7Z"/>
<path fill="#e5f5e0" d="M575.2,126.6 577.3,126.7 579.4,126.7 581.8,127.1 584.3,127.4 586.7,127.8 587.9,129.3 585.9,129.3 584,129.2 582,129.2 581.1,129.5 580.2,129.7 577.7,129.1 575.1,128.4 573.8,127Z"/>
<path fill="#e5f5e0" d="M589.6,128.6 590.9,128.4 592.2,128.2 594.6,128.5 597,128.8 596.5,129.6 595.1,129.5 593.7,129.4 591.7,129Z"/>
<path fill="#e5f5e0" d="M587.3,131.3 590.8,132.1 591.8,132.6 590.6,132.6 589.4,132.6 587.6,132.5 585.8,132.4 585.3,132.3 585.6,131.5Z"/>
<path fill="#e5f5e0" d="M658.7,137.7 657,137.8 655.6,137.1 656.1,136.2Z"/>
<path fill="#e5f5e0" d="M69.9,136.2 70.2,136.1 71.6,136.1 72.9,136.7 72.3,137 69.7,137.6 67.3,137.7Z"/>
<path fill="#e5f5e0" d="M60.7,141.8 61.4,142.6 62.2,143.5 62.8,144.6 63.4,145.7 61.1,147.1 61.5,147.6 63.5,146 65.6,146.2 67.7,146.4 67.8,147.4 68.1,148.5 64.9,149.5 63.3,149.6 61.8,149.7 58.6,151.9 57.2,152.4 55.7,152.4 55.4,151.6 54,150.9 55.1,149.9 53.8,149.5 51.4,149.8 51.6,149 53.2,148.2 50.4,148.7 49.6,149.8 47.2,150.7 51.6,147.7 56.1,144.7Z"/>
<path fill="#e5f5e0" d="M649.3,185.2 652.1,187.4 654.9,189.7 651.3,188.9 652.8,192.5 656.7,195.1 657.9,196.9 655.3,195.4 655.3,197.4 653.4,195.2 651.9,192.7 649.6,190 648.6,188.1 646,184.7 642.8,182.2 640,178.8 640.8,177.7 639,176.5 639.5,176.2 641.5,177.8 644.3,180.2 646.4,182.7Z"/>
<path fill="#e5f5e0" d="M667.1,220.2 667.3,222.3 668.4,223.6 668.1,225.4 665.9,226.7 664.1,226.7 662.2,226.8 660.4,229.8 658.5,228.8 657.5,226.9 655.8,227.1 654,227.4 652,228.7 649.4,228.7 652.4,230.6 652.6,232.9 652.7,235.1 651.7,236.2 650.3,235.2 649.9,232.8 648.2,232.1 646.6,230.3 648.3,229.5 648.8,227.8 650.4,226.5 651.2,224.7 653.2,224.3 655.1,223.9 657.7,224.4 657.7,222.1 657.7,219.8 659.8,221 661.6,218.4 662.3,217.4 661.9,214.2 659.8,211.3 659.7,209.7 661.7,209.2 665,212.8 666.1,214.9 665.6,217.5Z"/>
<path fill="#e5f5e0" d="M657.1,228 657.8,228.9 657.2,230.5 655.9,229.7 655.1,230.3 655.1,231.8 653.4,231.1 652.9,229.8 653.4,228.3 654.8,228.6 655.2,227.5Z"/>
<path fill="#e5f5e0" d="M662.3,202 664.1,202.5 664.9,201.5 667.3,204.3 664.7,205 664.5,207.6 662.3,206.7 660.1,205.8 660.7,208.7 658.4,208.7 656.5,206.2 656.3,204.2 658.4,204 656.6,200.5 655.8,198.4 660.1,201.1Z"/>
<path fill="#e5f5e0" d="M636.9,253.5 636.7,255.6 636.4,257.7 635.9,259.9 634.3,257.7 633.6,255.7 634.4,253.2 635.8,251.2 637,251.9Z"/>
<path fill="#e5f5e0" d="M613.8,268.5 612.1,269.7 610.1,268.9 609.6,266.7 610.6,265.5 612.9,264.8 614.2,264.8 614.9,265.8Z"/>
<path fill="#a1d99b" d="M551.3,297.6 551.1,300.4 550.2,301.1 548.2,301.7 547,299.6 546.4,295.9 546.8,293.7 547.2,291.6 548.9,293.1 550.1,294.9Z"/>
<path fill="#e5f5e0" d="M638.9,268.9 640.4,269.7 641,269 641.3,269.7 641.1,270.7 642.2,272.6 642,274.8 640.8,275.7 640.7,277.8 641.5,279.8 642.8,280.1 643.7,279.8 646.8,281.3 646.8,282.7 647.6,283.3 647.5,284.5 645.5,283.2 644.5,281.9 644,282.8 642.4,281.3 640.4,281.6 639.2,281.1 639.1,280 639.7,279.3 639,278.7 638.8,279.7 637.5,278.2 637,277 636.5,274.5 637.6,275.4 637.4,273.3 637.2,271.3 637.5,268.9Z"/>
<path fill="#e5f5e0" d="M653.8,295.3 654.2,297 654.4,298.5 653.8,300.9 652.8,298.2 651.8,299.6 652.6,301.5 652.1,302.7 649.3,301.2 648.5,299.3 649.1,298.1 647.6,296.8 646.9,297.9 645.8,297.8 644.2,299.3 643.8,298.5 644.5,296.3 645.9,295.6 647.1,294.6 648,295.8 649.7,295.1 650,293.9 651.6,293.8 651.3,291.8 653.3,293 653.6,294.3Z"/>
<path fill="#e5f5e0" d="M637.3,287.6 638,289.7 636.6,291.2 635.5,292.9 632.6,295.4 633.6,293.6 635.2,292 636.4,290.2Z"/>
<path fill="#e5f5e0" d="M650.1,284.5 650.9,285.5 651.8,288.4 650,287.7 650.1,288.6 650.9,290.2 649.8,290.8 649.5,289 648.8,288.8 648.3,287.2 649.7,287.4 649.5,286.5 647.9,284.5Z"/>
<path fill="#e5f5e0" d="M642.9,286.2 645.5,287 645.6,288.1 644.7,289.2 643.3,290 643.1,288.8 643.1,287.4Z"/>
<path fill="#e5f5e0" d="M645.9,293.7 644.4,291.9 644.8,291.2 645.3,290.5 645.4,288.9 646.6,288.7 646.4,290.5 646.6,292.9Z"/>
<path fill="#e5f5e0" d="M647.9,287.9 647.9,290.4 647.1,291.3 646.8,289.9Z"/>
<path fill="#e5f5e0" d="M641.5,283.1 641.1,285.4 640,284.1 638.6,282.1 640.6,282.2Z"/>
<path fill="#e5f5e0" d="M582.7,303 585.2,303.3 587.7,303.6 589.9,306.1 591.8,307.9 593.1,309 595.3,311.8 597.7,311.9 599.7,313.6 601,315.8 602.8,317 601.8,319.2 603.2,320.1 604,320.1 604.3,322 605.1,323.4 606.8,323.7 607.9,325.3 607.2,328.6 607,330.6 606.9,332.6 604.3,332.6 602.5,330.5 599.6,328.3 598.7,326.7 597,324.6 595.9,322.7 594.2,319 592.2,316.8 591.5,314.6 590.6,312.5 588.5,310.9 587.3,308.6 585.5,307.2 582.9,304.3Z"/>
<path fill="#e5f5e0" d="M613.2,335 615.4,335.2 617.6,335.3 618.2,334.2 620.3,334.8 622.4,335.5 623.1,337.1 626.6,337.6 629.3,339.2 626.6,340.2 624.1,339.1 622,339.2 619.7,339 617.5,338.5 614.9,337.5 613.3,337.3 612.3,337.6 610.2,337.1 608.1,336.5 607.8,335.4 605.7,335.2 607.4,332.7 610.2,332.9 612,333.9 613,334.1Z"/>
<path fill="#e5f5e0" d="M652.2,313.6 650.3,316.2 648.6,316.7 646.4,316.2 644.5,316.2 642.5,316.3 640.5,316.7 640.2,318.7 642.2,321 643.5,319.8 645.6,319.4 647.8,318.9 647.6,320.1 646.6,319.7 645.6,321.3 643.5,322.3 645.6,325.6 645.1,326.5 647.1,329.5 646.9,331.3 645.7,332 644.8,331.1 646.1,329 643.7,330 643.2,329.2 643.6,328.3 642,326.7 642.2,324.2 640.7,325 640.7,328 640.6,331.8 639.1,332.1 638.2,331.4 639,329 638.7,326.4 637.8,326.4 637.1,324.6 638.1,322.9 638.5,320.8 639.7,316.9 640.2,315.8 642.1,313.9 643.9,314.7 646.8,315 649.5,314.9 651.8,313Z"/>
<path fill="#e5f5e0" d="M642.2,339.6 643.8,339.4 645.9,338.4 645.5,339.9 643.7,340.3 641.9,340.6 638.9,340.3 639,339.4 640.8,338.8Z"/>
<path fill="#e5f5e0" d="M635.2,339.2 636.6,338.9 637.1,340.1 634.4,340.6 632.8,340.9 631.5,340.9 632.4,339.4 633.7,339.4 634.4,338.5Z"/>
<path fill="#e5f5e0" d="M640.6,343.4 639.9,342.6 638.7,341.8 636.5,342.3 639.4,344.1Z"/>
<path fill="#e5f5e0" d="M629.9,339.3 631.6,339.1 631.1,340.6 629.6,340.3Z"/>
<path fill="#e5f5e0" d="M660.1,314.3 660,316.6 658.8,316.4 658.5,318 659.4,319.3 658.8,319.7 657.9,318 658.2,315.5 658.5,313 657.6,312.6 658.3,311.6Z"/>
<path fill="#e5f5e0" d="M661.6,324.6 664.1,325.4 664.8,327.4 663,326.3 661.1,326.1 659.7,326.3 658.1,326.2 658.8,324.7Z"/>
<path fill="#e5f5e0" d="M656.6,326.3 655.7,327.2 654.1,326.7 653.8,325.6 656.1,325.5Z"/>
<path fill="#c7e9c0" d="M396.3,217.4 395.7,219.4 396,220.3 395.6,221.6 394,220.6 392.8,220.3 389.8,219 390,217.6 392.5,217.9 394.7,217.6Z"/>
<path fill="#c7e9c0" d="M382.5,209.6 383.8,211.5 383.7,214.9 382.7,214.8 381.8,215.6 381,214.9 380.8,211.8 380.3,210.3 381.4,210.4Z"/>
<path fill="#41ab5d" d="M383.1,207.2 382.5,209.2 381.5,208.7 381,206.9 381.4,206 382.7,205Z"/>
<path fill="#c7e9c0" d="M414.4,224 415.7,224.8 417.4,224.7 419,224.9 419,225.3 420.2,225 419.9,225.8 416.8,226 416.8,225.6 414.1,225.1Z"/>
<path fill="#e5f5e0" d="M433.2,225.5 434.5,224.8 436.2,224.8 438.1,224.1 436.7,225.2 437,225.9 434.9,226.9 433.8,226.6Z"/>
<path fill="#74c476" d="M387.3,173.1 386.3,175.1 384.2,173.7 383.9,172.7 386.6,171.9Z"/>
<path fill="#e5f5e0" d="M691.7,353.3 692.2,355.3 693.8,354.3 694.4,355.4 695.3,356.5 694.9,357.6 695,359.9 695.1,361.2 695.6,361.5 695.8,363.7 695.3,365.1 695.6,366.9 697.8,368.2 699.1,369.5 700.4,370.6 699.9,371.2 700.8,372.9 701,375.7 702.1,375.1 702.7,376.3 703.4,375.9 703.1,378.6 704.3,380.2 705,381.2 706.2,383.4 706.2,385.4 705.7,386.9 705,388.6 705.3,390.8 704.3,393.1 703.5,394.3 701.9,396.6 701.3,398.1 700.1,400 698,402.4 695.8,403.7 694,405.7 692.6,407 690.8,409.2 689.3,410.5 687.7,412.5 686.5,414.3 686.1,415.1 684.4,416 681.9,416.1 679.3,417.2 677.8,418.2 675.8,419.3 674.7,418.1 673.7,417.7 674.8,416.4 673.3,416.8 670.4,418.7 668.9,418 667.9,417.6 666.8,417.4 665.1,416.7 664.6,415 665.2,413.1 665.9,410.7 664.8,410.7 662.9,410.4 664.2,409.1 664.6,407.2 662.7,409 660.5,409.5 662.3,408 663.4,406.5 664.8,405.2 665.5,403.3 662.7,405.5 660.9,406.4 659.2,408.5 657.9,407.4 658.6,406 658.1,404.1 657.3,403.2 658,402.6 655.8,401 654.3,400.9 652.7,399.6 650.7,399.8 648.6,399.9 645.2,401.5 642.6,401.7 640.6,401.5 637.7,402.9 635.6,403.5 634.6,404.8 633.4,405.9 631.5,405.9 630,406.2 628.3,405.7 626.6,406 625,406.1 623.2,407.5 622.6,407.4 621.2,408.1 619.8,408.9 618.3,408.9 616.8,408.9 615.2,407.2 614.2,406.7 614.8,405.2 616,404.8 616.6,404.2 616.9,403.3 617.8,401.5 618.1,399.9 617.8,397.3 617.9,395.8 618.4,394.3 618,392.6 618.2,391.9 617.5,390.8 617.8,388.7 617,386.7 617,385.6 617.7,386.7 617.5,384.3 618.4,385 618.8,386 619.1,384.7 618.5,382.7 618.5,381.8 618.1,381 618.6,379.5 619.2,378.9 619.7,377.6 619.8,376.1 621.1,374.2 620.9,376.2 622.2,374.4 624.2,373.5 625.5,372.4 627.4,371.4 628.4,371.2 629,371.5 631,370.5 632.4,370.3 632.8,369.7 633.5,369.4 634.7,369.5 637.3,368.7 638.7,367.6 639.6,366.2 641.1,364.9 641.4,363.8 641.7,362.4 643.6,360.2 644.2,362.4 645.3,361.9 644.7,360.7 645.6,359.4 646.5,360 647.1,358 648.6,356.7 649.3,355.7 650.5,355.2 650.6,354.5 651.6,354.8 651.7,354.2 652.7,353.8 653.9,353.4 655.4,354.6 656.5,356.2 657.9,356.2 659.3,356.4 659,355 660.4,352.9 661.6,352.2 661.3,351.6 662.5,350.1 664,349.1 665.1,349.5 667.1,349 667.2,347.6 665.6,346.8 666.9,346.4 668.3,347 669.4,348.1 671.3,348.8 672,348.5 673.3,349.3 674.7,348.6 675.6,348.8 676.2,348.3 677.1,349.6 676.3,351 675.3,352 674.4,352.1 674.6,353.2 673.7,354.5 672.7,355.8 672.8,356.5 674.3,357.9 676,358.8 677,359.7 678.3,361.2 679,361.2 680.1,361.9 680.3,362.7 682.3,363.6 683.9,362.7 684.6,361.3 685.3,360.1 685.9,358.7 686.9,356.6 686.8,355.4 687.1,354.6 687,353.1 687.6,351.1 688.1,350.6 687.9,349.7 688.6,348.4 689.3,346.9 689.4,346.2 690.4,345.2 690.9,346.5 690.8,348.1 691.4,348.4 691.3,349.5 692,350.8 691.9,352.3Z"/>
<path fill="#e5f5e0" d="M671.2,423.9 672.6,424.8 674,424.4 676,423.9 677.1,424.1 675.3,427.2 674,428.1 672.4,430.1 672.1,429.4 669.4,431.2 669.1,431.1 667.9,431 668.1,428.8 668.9,427.1 669.1,424.8 669.9,423.6Z"/>
<path fill="#74c476" d="M739.3,422 737.5,423.4 735.1,425.2 732.6,426.2 732.8,425.5 732.2,425.1 735,423 735.4,421.6 733.8,420.5 734.5,419.6 736.7,418.7 738.4,416.7 739.4,415 739.7,413.3 740,412.8 739.6,411.7 739.3,409.4 739.5,407.6 740.4,407.4 740.8,408.8 742.1,409.5 741.2,411.8 741.1,414.6 742.3,412.8 742.8,413.5 741.8,415.5 743,416.3 744.3,416.5 746.2,415.5 747.1,415.8 745,418.1 743.3,419.7 741.7,419.6 740,421.5Z"/>
<path fill="#74c476" d="M717.2,431 720,429.7 722.3,428.3 724.7,426.4 726.1,425.7 727.4,424.3 729.8,423.1 729.5,424.2 729.1,425.3 731.4,424.2 731.2,425.3 730.4,426.4 728.7,427.6 725.8,429.5 723.9,430.5 723.7,431.8 722,431.8 719.4,432.8 717.5,434.5 714.1,437.1 711.5,438.2 709.9,438.9 708.1,438.9 707.4,438 705.4,437.9 705.8,436.9 708.5,435 713.1,432.5 714.9,432Z"/>
</g></g>
<g>
<text class="lg" x="181" y="510" text-anchor="middle">No data</text>
<line x1="181" x2="181" y1="514.5" y2="517" stroke="#ccc" stroke-width="1"/>
<rect x="157.5" y="517.3" width="47" height="11" fill="url(#hatch2)" stroke="#c4c4c4" stroke-width="1"/>
<rect x="224.6" y="517.3" width="58.50000000000003" height="11" fill="#f7fcf5" stroke="#bbb" stroke-width="0.6"/>
<rect x="283.1" y="517.3" width="58.5" height="11" fill="#e5f5e0" stroke="#bbb" stroke-width="0.6"/>
<rect x="341.6" y="517.3" width="58.5" height="11" fill="#c7e9c0" stroke="#bbb" stroke-width="0.6"/>
<rect x="400.1" y="517.3" width="58.5" height="11" fill="#a1d99b" stroke="#bbb" stroke-width="0.6"/>
<rect x="458.6" y="517.3" width="58.5" height="11" fill="#74c476" stroke="#bbb" stroke-width="0.6"/>
<rect x="517.1" y="517.3" width="58.5" height="11" fill="#41ab5d" stroke="#bbb" stroke-width="0.6"/>
<rect x="575.6" y="517.3" width="58.5" height="11" fill="#238b45" stroke="#bbb" stroke-width="0.6"/>
<path d="M634.1,517.3H688.5L693,522.8L688.5,528.3H634.1Z" fill="#005a32" stroke="#bbb" stroke-width="0.4"/>
<line x1="224.6" x2="224.6" y1="514" y2="528.3" stroke="#000" stroke-opacity="0.27" stroke-width="1"/>
<text class="lg" x="224.6" y="510" text-anchor="middle">0%</text>
<line x1="283.1" x2="283.1" y1="514" y2="528.3" stroke="#000" stroke-opacity="0.27" stroke-width="1"/>
<text class="lg" x="283.1" y="510" text-anchor="middle">10%</text>
<line x1="341.6" x2="341.6" y1="514" y2="528.3" stroke="#000" stroke-opacity="0.27" stroke-width="1"/>
<text class="lg" x="341.6" y="510" text-anchor="middle">20%</text>
<line x1="400.1" x2="400.1" y1="514" y2="528.3" stroke="#000" stroke-opacity="0.27" stroke-width="1"/>
<text class="lg" x="400.1" y="510" text-anchor="middle">30%</text>
<line x1="458.6" x2="458.6" y1="514" y2="528.3" stroke="#000" stroke-opacity="0.27" stroke-width="1"/>
<text class="lg" x="458.6" y="510" text-anchor="middle">40%</text>
<line x1="517.1" x2="517.1" y1="514" y2="528.3" stroke="#000" stroke-opacity="0.27" stroke-width="1"/>
<text class="lg" x="517.1" y="510" text-anchor="middle">50%</text>
<line x1="575.6" x2="575.6" y1="514" y2="528.3" stroke="#000" stroke-opacity="0.27" stroke-width="1"/>
<text class="lg" x="575.6" y="510" text-anchor="middle">60%</text>
<line x1="634.1" x2="634.1" y1="514" y2="528.3" stroke="#000" stroke-opacity="0.27" stroke-width="1"/>
<text class="lg" x="634.1" y="510" text-anchor="middle">70%</text>
</g></svg>
<div id="foot1" class="abs"><b>Data source:</b> Energy Institute - Statistical Review of World Energy (2025)</div>
<div id="footr" class="abs">OurWorldinData.org/energy | CC BY</div>
<div id="foot2" class="abs"><b>Note:</b> Renewables include hydropower, solar, wind, geothermal, wave, tidal, and bioenergy, but not traditional biofuels.</div>
</body></html>
